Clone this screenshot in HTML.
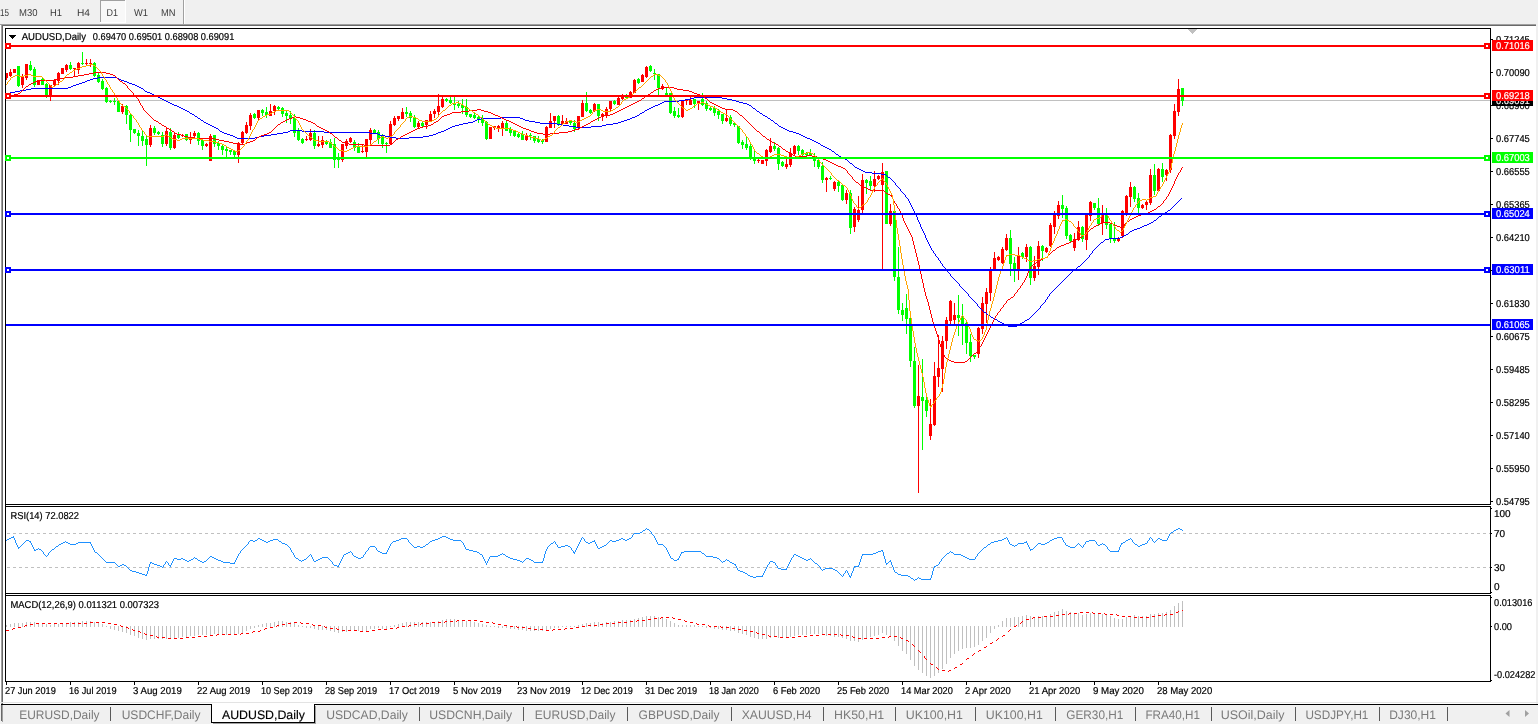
<!DOCTYPE html>
<html><head><meta charset="utf-8"><title>AUDUSD,Daily</title>
<style>html,body{margin:0;padding:0;background:#fff;overflow:hidden}svg{display:block}</style></head>
<body>
<svg width="1538" height="724" viewBox="0 0 1538 724" font-family="'Liberation Sans', sans-serif" shape-rendering="crispEdges" text-rendering="geometricPrecision">
<rect x="0" y="0" width="1538" height="724" fill="#fff"/>
<rect x="0" y="0" width="1538" height="24" fill="#f0f0f0"/>
<rect x="100" y="0" width="26" height="23" fill="#f8f8f8"/>
<rect x="100" y="0" width="26" height="1" fill="#a0a0a0"/>
<rect x="100" y="0" width="1" height="23" fill="#a0a0a0"/>
<rect x="100" y="22" width="26" height="1" fill="#fff"/>
<rect x="125" y="0" width="1" height="23" fill="#fff"/>
<rect x="183" y="0" width="1" height="24" fill="#a0a0a0"/>
<rect x="184" y="0" width="1" height="24" fill="#fff"/>
<text x="0" y="16" font-size="10" fill="#3a3a3a" textLength="9" lengthAdjust="spacingAndGlyphs" xml:space="preserve">15</text>
<text x="19" y="16" font-size="10" fill="#3a3a3a" textLength="18.5" lengthAdjust="spacingAndGlyphs" xml:space="preserve">M30</text>
<text x="50" y="16" font-size="10" fill="#3a3a3a" textLength="12" lengthAdjust="spacingAndGlyphs" xml:space="preserve">H1</text>
<text x="77" y="16" font-size="10" fill="#3a3a3a" textLength="13" lengthAdjust="spacingAndGlyphs" xml:space="preserve">H4</text>
<text x="106.5" y="16" font-size="10" fill="#3a3a3a" textLength="11.5" lengthAdjust="spacingAndGlyphs" xml:space="preserve">D1</text>
<text x="134" y="16" font-size="10" fill="#3a3a3a" textLength="14" lengthAdjust="spacingAndGlyphs" xml:space="preserve">W1</text>
<text x="161" y="16" font-size="10" fill="#3a3a3a" textLength="14.5" lengthAdjust="spacingAndGlyphs" xml:space="preserve">MN</text>
<rect x="0" y="24" width="1538" height="1" fill="#a0a0a0"/>
<rect x="1" y="25" width="1536" height="1" fill="#696969"/>
<rect x="0" y="26" width="1" height="676" fill="#fff"/>
<rect x="1" y="24" width="1" height="680" fill="#a0a0a0"/>
<rect x="2" y="25" width="1" height="679" fill="#696969"/>
<rect x="1536" y="24" width="2" height="680" fill="#f0f0f0"/>
<rect x="5" y="28" width="1" height="654" fill="#000"/>
<rect x="1490" y="28" width="1" height="654" fill="#000"/>
<rect x="5" y="28" width="1486" height="1" fill="#000"/>
<rect x="5" y="504" width="1486" height="1" fill="#000"/>
<rect x="5" y="506" width="1486" height="1" fill="#000"/>
<rect x="5" y="593" width="1486" height="1" fill="#000"/>
<rect x="5" y="595" width="1486" height="1" fill="#000"/>
<rect x="5" y="681" width="1486" height="1" fill="#000"/>
<rect x="5" y="505" width="1486" height="1" fill="#fff"/>
<rect x="5" y="594" width="1486" height="1" fill="#fff"/>
<clipPath id="cm"><rect x="6" y="29" width="1484" height="475"/></clipPath>
<g clip-path="url(#cm)">
<path d="M1187 29h10l-5 5z" fill="#c0c0c0"/>
<rect x="6" y="100" width="1484" height="1" fill="#c0c0c0"/>
<rect x="6" y="73" width="1" height="7" fill="#ff0000"/>
<rect x="5" y="73" width="3" height="5" fill="#ff0000"/>
<rect x="10" y="69" width="1" height="8" fill="#ff0000"/>
<rect x="9" y="72" width="3" height="4" fill="#ff0000"/>
<rect x="14" y="69" width="1" height="4" fill="#ff0000"/>
<rect x="13" y="69" width="3" height="4" fill="#ff0000"/>
<rect x="18" y="66" width="1" height="21" fill="#00ff00"/>
<rect x="17" y="66" width="3" height="20" fill="#00ff00"/>
<rect x="22" y="74" width="1" height="14" fill="#ff0000"/>
<rect x="21" y="77" width="3" height="8" fill="#ff0000"/>
<rect x="26" y="64" width="1" height="16" fill="#ff0000"/>
<rect x="25" y="64" width="3" height="14" fill="#ff0000"/>
<rect x="30" y="61" width="1" height="10" fill="#00ff00"/>
<rect x="29" y="65" width="3" height="5" fill="#00ff00"/>
<rect x="34" y="67" width="1" height="20" fill="#00ff00"/>
<rect x="33" y="69" width="3" height="16" fill="#00ff00"/>
<rect x="38" y="80" width="1" height="5" fill="#ff0000"/>
<rect x="37" y="80" width="3" height="5" fill="#ff0000"/>
<rect x="42" y="77" width="1" height="8" fill="#00ff00"/>
<rect x="41" y="79" width="3" height="6" fill="#00ff00"/>
<rect x="46" y="83" width="1" height="15" fill="#00ff00"/>
<rect x="45" y="84" width="3" height="11" fill="#00ff00"/>
<rect x="50" y="85" width="1" height="16" fill="#ff0000"/>
<rect x="49" y="85" width="3" height="10" fill="#ff0000"/>
<rect x="54" y="79" width="1" height="7" fill="#ff0000"/>
<rect x="53" y="80" width="3" height="5" fill="#ff0000"/>
<rect x="58" y="72" width="1" height="13" fill="#ff0000"/>
<rect x="57" y="73" width="3" height="8" fill="#ff0000"/>
<rect x="62" y="68" width="1" height="6" fill="#ff0000"/>
<rect x="61" y="68" width="3" height="6" fill="#ff0000"/>
<rect x="66" y="64" width="1" height="8" fill="#ff0000"/>
<rect x="65" y="65" width="3" height="5" fill="#ff0000"/>
<rect x="70" y="62" width="1" height="8" fill="#00ff00"/>
<rect x="69" y="65" width="3" height="4" fill="#00ff00"/>
<rect x="74" y="68" width="1" height="8" fill="#ff0000"/>
<rect x="73" y="68" width="3" height="1" fill="#ff0000"/>
<rect x="78" y="62" width="1" height="12" fill="#ff0000"/>
<rect x="77" y="63" width="3" height="7" fill="#ff0000"/>
<rect x="82" y="52" width="1" height="13" fill="#00ff00"/>
<rect x="81" y="63" width="3" height="1" fill="#00ff00"/>
<rect x="86" y="59" width="1" height="6" fill="#ff0000"/>
<rect x="85" y="63" width="3" height="1" fill="#ff0000"/>
<rect x="90" y="59" width="1" height="8" fill="#ff0000"/>
<rect x="89" y="63" width="3" height="1" fill="#ff0000"/>
<rect x="94" y="62" width="1" height="15" fill="#00ff00"/>
<rect x="93" y="63" width="3" height="13" fill="#00ff00"/>
<rect x="98" y="73" width="1" height="10" fill="#00ff00"/>
<rect x="97" y="75" width="3" height="7" fill="#00ff00"/>
<rect x="102" y="79" width="1" height="11" fill="#00ff00"/>
<rect x="101" y="81" width="3" height="8" fill="#00ff00"/>
<rect x="106" y="87" width="1" height="16" fill="#00ff00"/>
<rect x="105" y="88" width="3" height="14" fill="#00ff00"/>
<rect x="110" y="100" width="1" height="3" fill="#00ff00"/>
<rect x="109" y="101" width="3" height="1" fill="#00ff00"/>
<rect x="114" y="98" width="1" height="7" fill="#00ff00"/>
<rect x="113" y="101" width="3" height="1" fill="#00ff00"/>
<rect x="118" y="101" width="1" height="11" fill="#00ff00"/>
<rect x="117" y="101" width="3" height="11" fill="#00ff00"/>
<rect x="122" y="104" width="1" height="10" fill="#ff0000"/>
<rect x="121" y="106" width="3" height="6" fill="#ff0000"/>
<rect x="126" y="105" width="1" height="19" fill="#00ff00"/>
<rect x="125" y="106" width="3" height="9" fill="#00ff00"/>
<rect x="130" y="113" width="1" height="29" fill="#00ff00"/>
<rect x="129" y="115" width="3" height="15" fill="#00ff00"/>
<rect x="134" y="129" width="1" height="5" fill="#00ff00"/>
<rect x="133" y="129" width="3" height="4" fill="#00ff00"/>
<rect x="138" y="130" width="1" height="16" fill="#00ff00"/>
<rect x="137" y="133" width="3" height="3" fill="#00ff00"/>
<rect x="142" y="130" width="1" height="16" fill="#00ff00"/>
<rect x="141" y="136" width="3" height="5" fill="#00ff00"/>
<rect x="146" y="136" width="1" height="30" fill="#00ff00"/>
<rect x="145" y="139" width="3" height="6" fill="#00ff00"/>
<rect x="150" y="125" width="1" height="22" fill="#ff0000"/>
<rect x="149" y="128" width="3" height="17" fill="#ff0000"/>
<rect x="154" y="126" width="1" height="9" fill="#00ff00"/>
<rect x="153" y="128" width="3" height="5" fill="#00ff00"/>
<rect x="158" y="131" width="1" height="4" fill="#00ff00"/>
<rect x="157" y="132" width="3" height="2" fill="#00ff00"/>
<rect x="162" y="132" width="1" height="15" fill="#00ff00"/>
<rect x="161" y="135" width="3" height="9" fill="#00ff00"/>
<rect x="166" y="127" width="1" height="19" fill="#ff0000"/>
<rect x="165" y="131" width="3" height="13" fill="#ff0000"/>
<rect x="170" y="128" width="1" height="22" fill="#00ff00"/>
<rect x="169" y="132" width="3" height="16" fill="#00ff00"/>
<rect x="174" y="133" width="1" height="16" fill="#ff0000"/>
<rect x="173" y="135" width="3" height="13" fill="#ff0000"/>
<rect x="178" y="132" width="1" height="7" fill="#00ff00"/>
<rect x="177" y="135" width="3" height="3" fill="#00ff00"/>
<rect x="182" y="134" width="1" height="3" fill="#ff0000"/>
<rect x="181" y="135" width="3" height="1" fill="#ff0000"/>
<rect x="186" y="134" width="1" height="7" fill="#00ff00"/>
<rect x="185" y="134" width="3" height="6" fill="#00ff00"/>
<rect x="190" y="132" width="1" height="12" fill="#ff0000"/>
<rect x="189" y="137" width="3" height="3" fill="#ff0000"/>
<rect x="194" y="131" width="1" height="8" fill="#ff0000"/>
<rect x="193" y="133" width="3" height="3" fill="#ff0000"/>
<rect x="198" y="132" width="1" height="13" fill="#00ff00"/>
<rect x="197" y="133" width="3" height="8" fill="#00ff00"/>
<rect x="202" y="138" width="1" height="12" fill="#00ff00"/>
<rect x="201" y="140" width="3" height="6" fill="#00ff00"/>
<rect x="206" y="143" width="1" height="4" fill="#ff0000"/>
<rect x="205" y="144" width="3" height="2" fill="#ff0000"/>
<rect x="210" y="134" width="1" height="27" fill="#ff0000"/>
<rect x="209" y="136" width="3" height="25" fill="#ff0000"/>
<rect x="214" y="135" width="1" height="12" fill="#00ff00"/>
<rect x="213" y="135" width="3" height="9" fill="#00ff00"/>
<rect x="218" y="141" width="1" height="9" fill="#00ff00"/>
<rect x="217" y="143" width="3" height="3" fill="#00ff00"/>
<rect x="222" y="145" width="1" height="10" fill="#00ff00"/>
<rect x="221" y="146" width="3" height="4" fill="#00ff00"/>
<rect x="226" y="147" width="1" height="10" fill="#00ff00"/>
<rect x="225" y="149" width="3" height="2" fill="#00ff00"/>
<rect x="230" y="150" width="1" height="5" fill="#00ff00"/>
<rect x="229" y="150" width="3" height="2" fill="#00ff00"/>
<rect x="234" y="150" width="1" height="7" fill="#00ff00"/>
<rect x="233" y="151" width="3" height="4" fill="#00ff00"/>
<rect x="238" y="142" width="1" height="21" fill="#ff0000"/>
<rect x="237" y="143" width="3" height="12" fill="#ff0000"/>
<rect x="242" y="131" width="1" height="13" fill="#ff0000"/>
<rect x="241" y="132" width="3" height="11" fill="#ff0000"/>
<rect x="246" y="122" width="1" height="12" fill="#ff0000"/>
<rect x="245" y="125" width="3" height="8" fill="#ff0000"/>
<rect x="250" y="113" width="1" height="17" fill="#ff0000"/>
<rect x="249" y="115" width="3" height="11" fill="#ff0000"/>
<rect x="254" y="113" width="1" height="6" fill="#00ff00"/>
<rect x="253" y="114" width="3" height="4" fill="#00ff00"/>
<rect x="258" y="110" width="1" height="10" fill="#ff0000"/>
<rect x="257" y="110" width="3" height="8" fill="#ff0000"/>
<rect x="262" y="109" width="1" height="7" fill="#00ff00"/>
<rect x="261" y="110" width="3" height="3" fill="#00ff00"/>
<rect x="266" y="107" width="1" height="11" fill="#00ff00"/>
<rect x="265" y="112" width="3" height="3" fill="#00ff00"/>
<rect x="270" y="104" width="1" height="12" fill="#ff0000"/>
<rect x="269" y="111" width="3" height="5" fill="#ff0000"/>
<rect x="274" y="105" width="1" height="10" fill="#ff0000"/>
<rect x="273" y="106" width="3" height="5" fill="#ff0000"/>
<rect x="278" y="106" width="1" height="4" fill="#00ff00"/>
<rect x="277" y="107" width="3" height="2" fill="#00ff00"/>
<rect x="282" y="107" width="1" height="10" fill="#00ff00"/>
<rect x="281" y="108" width="3" height="6" fill="#00ff00"/>
<rect x="286" y="111" width="1" height="12" fill="#00ff00"/>
<rect x="285" y="113" width="3" height="3" fill="#00ff00"/>
<rect x="290" y="111" width="1" height="13" fill="#00ff00"/>
<rect x="289" y="115" width="3" height="4" fill="#00ff00"/>
<rect x="294" y="114" width="1" height="23" fill="#00ff00"/>
<rect x="293" y="118" width="3" height="15" fill="#00ff00"/>
<rect x="298" y="128" width="1" height="13" fill="#00ff00"/>
<rect x="297" y="130" width="3" height="10" fill="#00ff00"/>
<rect x="302" y="138" width="1" height="6" fill="#00ff00"/>
<rect x="301" y="139" width="3" height="4" fill="#00ff00"/>
<rect x="306" y="136" width="1" height="5" fill="#ff0000"/>
<rect x="305" y="139" width="3" height="1" fill="#ff0000"/>
<rect x="310" y="129" width="1" height="12" fill="#ff0000"/>
<rect x="309" y="133" width="3" height="7" fill="#ff0000"/>
<rect x="314" y="130" width="1" height="19" fill="#00ff00"/>
<rect x="313" y="133" width="3" height="13" fill="#00ff00"/>
<rect x="318" y="136" width="1" height="11" fill="#ff0000"/>
<rect x="317" y="144" width="3" height="2" fill="#ff0000"/>
<rect x="322" y="136" width="1" height="12" fill="#ff0000"/>
<rect x="321" y="140" width="3" height="5" fill="#ff0000"/>
<rect x="326" y="140" width="1" height="5" fill="#00ff00"/>
<rect x="325" y="141" width="3" height="3" fill="#00ff00"/>
<rect x="330" y="139" width="1" height="9" fill="#00ff00"/>
<rect x="329" y="142" width="3" height="6" fill="#00ff00"/>
<rect x="334" y="138" width="1" height="30" fill="#00ff00"/>
<rect x="333" y="144" width="3" height="16" fill="#00ff00"/>
<rect x="338" y="153" width="1" height="15" fill="#00ff00"/>
<rect x="337" y="158" width="3" height="2" fill="#00ff00"/>
<rect x="342" y="144" width="1" height="18" fill="#ff0000"/>
<rect x="341" y="144" width="3" height="16" fill="#ff0000"/>
<rect x="346" y="139" width="1" height="10" fill="#ff0000"/>
<rect x="345" y="141" width="3" height="5" fill="#ff0000"/>
<rect x="350" y="137" width="1" height="6" fill="#ff0000"/>
<rect x="349" y="138" width="3" height="4" fill="#ff0000"/>
<rect x="354" y="140" width="1" height="11" fill="#00ff00"/>
<rect x="353" y="142" width="3" height="6" fill="#00ff00"/>
<rect x="358" y="143" width="1" height="10" fill="#00ff00"/>
<rect x="357" y="146" width="3" height="7" fill="#00ff00"/>
<rect x="362" y="145" width="1" height="8" fill="#ff0000"/>
<rect x="361" y="151" width="3" height="1" fill="#ff0000"/>
<rect x="366" y="139" width="1" height="18" fill="#ff0000"/>
<rect x="365" y="139" width="3" height="13" fill="#ff0000"/>
<rect x="370" y="128" width="1" height="16" fill="#ff0000"/>
<rect x="369" y="130" width="3" height="10" fill="#ff0000"/>
<rect x="374" y="129" width="1" height="5" fill="#00ff00"/>
<rect x="373" y="130" width="3" height="3" fill="#00ff00"/>
<rect x="378" y="130" width="1" height="14" fill="#00ff00"/>
<rect x="377" y="132" width="3" height="7" fill="#00ff00"/>
<rect x="382" y="134" width="1" height="14" fill="#00ff00"/>
<rect x="381" y="135" width="3" height="9" fill="#00ff00"/>
<rect x="386" y="142" width="1" height="11" fill="#00ff00"/>
<rect x="385" y="143" width="3" height="1" fill="#00ff00"/>
<rect x="390" y="121" width="1" height="24" fill="#ff0000"/>
<rect x="389" y="124" width="3" height="20" fill="#ff0000"/>
<rect x="394" y="116" width="1" height="10" fill="#ff0000"/>
<rect x="393" y="118" width="3" height="7" fill="#ff0000"/>
<rect x="398" y="116" width="1" height="5" fill="#ff0000"/>
<rect x="397" y="116" width="3" height="3" fill="#ff0000"/>
<rect x="402" y="108" width="1" height="11" fill="#ff0000"/>
<rect x="401" y="112" width="3" height="7" fill="#ff0000"/>
<rect x="406" y="107" width="1" height="10" fill="#00ff00"/>
<rect x="405" y="112" width="3" height="2" fill="#00ff00"/>
<rect x="410" y="111" width="1" height="11" fill="#00ff00"/>
<rect x="409" y="113" width="3" height="5" fill="#00ff00"/>
<rect x="414" y="115" width="1" height="13" fill="#00ff00"/>
<rect x="413" y="117" width="3" height="10" fill="#00ff00"/>
<rect x="418" y="121" width="1" height="8" fill="#ff0000"/>
<rect x="417" y="123" width="3" height="4" fill="#ff0000"/>
<rect x="422" y="122" width="1" height="5" fill="#00ff00"/>
<rect x="421" y="123" width="3" height="3" fill="#00ff00"/>
<rect x="426" y="120" width="1" height="9" fill="#ff0000"/>
<rect x="425" y="120" width="3" height="5" fill="#ff0000"/>
<rect x="430" y="111" width="1" height="11" fill="#ff0000"/>
<rect x="429" y="114" width="3" height="7" fill="#ff0000"/>
<rect x="434" y="109" width="1" height="9" fill="#ff0000"/>
<rect x="433" y="111" width="3" height="3" fill="#ff0000"/>
<rect x="438" y="94" width="1" height="23" fill="#ff0000"/>
<rect x="437" y="106" width="3" height="6" fill="#ff0000"/>
<rect x="442" y="97" width="1" height="11" fill="#ff0000"/>
<rect x="441" y="99" width="3" height="8" fill="#ff0000"/>
<rect x="446" y="98" width="1" height="4" fill="#00ff00"/>
<rect x="445" y="99" width="3" height="2" fill="#00ff00"/>
<rect x="450" y="97" width="1" height="7" fill="#00ff00"/>
<rect x="449" y="100" width="3" height="3" fill="#00ff00"/>
<rect x="454" y="97" width="1" height="13" fill="#00ff00"/>
<rect x="453" y="103" width="3" height="2" fill="#00ff00"/>
<rect x="458" y="101" width="1" height="7" fill="#00ff00"/>
<rect x="457" y="104" width="3" height="2" fill="#00ff00"/>
<rect x="462" y="99" width="1" height="15" fill="#00ff00"/>
<rect x="461" y="105" width="3" height="3" fill="#00ff00"/>
<rect x="466" y="99" width="1" height="18" fill="#00ff00"/>
<rect x="465" y="107" width="3" height="8" fill="#00ff00"/>
<rect x="470" y="114" width="1" height="4" fill="#00ff00"/>
<rect x="469" y="114" width="3" height="3" fill="#00ff00"/>
<rect x="474" y="113" width="1" height="6" fill="#00ff00"/>
<rect x="473" y="115" width="3" height="3" fill="#00ff00"/>
<rect x="478" y="115" width="1" height="8" fill="#00ff00"/>
<rect x="477" y="117" width="3" height="2" fill="#00ff00"/>
<rect x="482" y="115" width="1" height="11" fill="#00ff00"/>
<rect x="481" y="119" width="3" height="4" fill="#00ff00"/>
<rect x="486" y="121" width="1" height="19" fill="#00ff00"/>
<rect x="485" y="122" width="3" height="17" fill="#00ff00"/>
<rect x="490" y="127" width="1" height="12" fill="#ff0000"/>
<rect x="489" y="127" width="3" height="12" fill="#ff0000"/>
<rect x="494" y="126" width="1" height="4" fill="#ff0000"/>
<rect x="493" y="126" width="3" height="2" fill="#ff0000"/>
<rect x="498" y="125" width="1" height="7" fill="#ff0000"/>
<rect x="497" y="126" width="3" height="3" fill="#ff0000"/>
<rect x="502" y="121" width="1" height="15" fill="#ff0000"/>
<rect x="501" y="123" width="3" height="6" fill="#ff0000"/>
<rect x="506" y="121" width="1" height="10" fill="#00ff00"/>
<rect x="505" y="123" width="3" height="8" fill="#00ff00"/>
<rect x="510" y="127" width="1" height="9" fill="#00ff00"/>
<rect x="509" y="129" width="3" height="4" fill="#00ff00"/>
<rect x="514" y="130" width="1" height="7" fill="#00ff00"/>
<rect x="513" y="131" width="3" height="5" fill="#00ff00"/>
<rect x="518" y="133" width="1" height="5" fill="#00ff00"/>
<rect x="517" y="134" width="3" height="3" fill="#00ff00"/>
<rect x="522" y="131" width="1" height="9" fill="#00ff00"/>
<rect x="521" y="134" width="3" height="6" fill="#00ff00"/>
<rect x="526" y="133" width="1" height="8" fill="#ff0000"/>
<rect x="525" y="136" width="3" height="4" fill="#ff0000"/>
<rect x="530" y="133" width="1" height="7" fill="#00ff00"/>
<rect x="529" y="135" width="3" height="1" fill="#00ff00"/>
<rect x="534" y="136" width="1" height="7" fill="#00ff00"/>
<rect x="533" y="136" width="3" height="5" fill="#00ff00"/>
<rect x="538" y="136" width="1" height="7" fill="#00ff00"/>
<rect x="537" y="139" width="3" height="3" fill="#00ff00"/>
<rect x="542" y="139" width="1" height="5" fill="#00ff00"/>
<rect x="541" y="140" width="3" height="2" fill="#00ff00"/>
<rect x="546" y="126" width="1" height="16" fill="#ff0000"/>
<rect x="545" y="127" width="3" height="15" fill="#ff0000"/>
<rect x="550" y="113" width="1" height="15" fill="#ff0000"/>
<rect x="549" y="121" width="3" height="7" fill="#ff0000"/>
<rect x="554" y="116" width="1" height="12" fill="#ff0000"/>
<rect x="553" y="116" width="3" height="5" fill="#ff0000"/>
<rect x="558" y="115" width="1" height="11" fill="#00ff00"/>
<rect x="557" y="116" width="3" height="8" fill="#00ff00"/>
<rect x="562" y="115" width="1" height="9" fill="#ff0000"/>
<rect x="561" y="121" width="3" height="3" fill="#ff0000"/>
<rect x="566" y="118" width="1" height="6" fill="#ff0000"/>
<rect x="565" y="121" width="3" height="3" fill="#ff0000"/>
<rect x="570" y="121" width="1" height="4" fill="#00ff00"/>
<rect x="569" y="121" width="3" height="2" fill="#00ff00"/>
<rect x="574" y="120" width="1" height="12" fill="#00ff00"/>
<rect x="573" y="123" width="3" height="6" fill="#00ff00"/>
<rect x="578" y="116" width="1" height="14" fill="#ff0000"/>
<rect x="577" y="116" width="3" height="12" fill="#ff0000"/>
<rect x="582" y="100" width="1" height="17" fill="#ff0000"/>
<rect x="581" y="103" width="3" height="14" fill="#ff0000"/>
<rect x="586" y="92" width="1" height="20" fill="#00ff00"/>
<rect x="585" y="103" width="3" height="8" fill="#00ff00"/>
<rect x="590" y="109" width="1" height="5" fill="#00ff00"/>
<rect x="589" y="110" width="3" height="3" fill="#00ff00"/>
<rect x="594" y="103" width="1" height="9" fill="#ff0000"/>
<rect x="593" y="104" width="3" height="7" fill="#ff0000"/>
<rect x="598" y="104" width="1" height="17" fill="#00ff00"/>
<rect x="597" y="104" width="3" height="12" fill="#00ff00"/>
<rect x="602" y="113" width="1" height="8" fill="#ff0000"/>
<rect x="601" y="114" width="3" height="3" fill="#ff0000"/>
<rect x="606" y="107" width="1" height="11" fill="#ff0000"/>
<rect x="605" y="109" width="3" height="7" fill="#ff0000"/>
<rect x="610" y="101" width="1" height="10" fill="#ff0000"/>
<rect x="609" y="101" width="3" height="8" fill="#ff0000"/>
<rect x="614" y="100" width="1" height="5" fill="#00ff00"/>
<rect x="613" y="101" width="3" height="3" fill="#00ff00"/>
<rect x="618" y="96" width="1" height="9" fill="#ff0000"/>
<rect x="617" y="98" width="3" height="7" fill="#ff0000"/>
<rect x="622" y="94" width="1" height="6" fill="#ff0000"/>
<rect x="621" y="95" width="3" height="4" fill="#ff0000"/>
<rect x="626" y="94" width="1" height="4" fill="#00ff00"/>
<rect x="625" y="96" width="3" height="2" fill="#00ff00"/>
<rect x="630" y="91" width="1" height="7" fill="#ff0000"/>
<rect x="629" y="92" width="3" height="6" fill="#ff0000"/>
<rect x="634" y="79" width="1" height="14" fill="#ff0000"/>
<rect x="633" y="80" width="3" height="13" fill="#ff0000"/>
<rect x="638" y="78" width="1" height="6" fill="#00ff00"/>
<rect x="637" y="79" width="3" height="4" fill="#00ff00"/>
<rect x="642" y="74" width="1" height="8" fill="#ff0000"/>
<rect x="641" y="75" width="3" height="7" fill="#ff0000"/>
<rect x="646" y="66" width="1" height="12" fill="#ff0000"/>
<rect x="645" y="67" width="3" height="10" fill="#ff0000"/>
<rect x="650" y="65" width="1" height="7" fill="#00ff00"/>
<rect x="649" y="66" width="3" height="5" fill="#00ff00"/>
<rect x="654" y="69" width="1" height="11" fill="#00ff00"/>
<rect x="653" y="73" width="3" height="1" fill="#00ff00"/>
<rect x="658" y="74" width="1" height="21" fill="#00ff00"/>
<rect x="657" y="74" width="3" height="14" fill="#00ff00"/>
<rect x="662" y="84" width="1" height="6" fill="#ff0000"/>
<rect x="661" y="86" width="3" height="3" fill="#ff0000"/>
<rect x="666" y="87" width="1" height="9" fill="#00ff00"/>
<rect x="665" y="93" width="3" height="2" fill="#00ff00"/>
<rect x="670" y="93" width="1" height="21" fill="#00ff00"/>
<rect x="669" y="93" width="3" height="20" fill="#00ff00"/>
<rect x="674" y="107" width="1" height="11" fill="#00ff00"/>
<rect x="673" y="111" width="3" height="5" fill="#00ff00"/>
<rect x="678" y="108" width="1" height="10" fill="#00ff00"/>
<rect x="677" y="115" width="3" height="2" fill="#00ff00"/>
<rect x="682" y="100" width="1" height="18" fill="#ff0000"/>
<rect x="681" y="101" width="3" height="16" fill="#ff0000"/>
<rect x="686" y="100" width="1" height="5" fill="#ff0000"/>
<rect x="685" y="100" width="3" height="1" fill="#ff0000"/>
<rect x="690" y="96" width="1" height="9" fill="#ff0000"/>
<rect x="689" y="100" width="3" height="5" fill="#ff0000"/>
<rect x="694" y="99" width="1" height="9" fill="#00ff00"/>
<rect x="693" y="99" width="3" height="5" fill="#00ff00"/>
<rect x="698" y="101" width="1" height="9" fill="#ff0000"/>
<rect x="697" y="101" width="3" height="2" fill="#ff0000"/>
<rect x="702" y="93" width="1" height="13" fill="#00ff00"/>
<rect x="701" y="99" width="3" height="6" fill="#00ff00"/>
<rect x="706" y="101" width="1" height="10" fill="#00ff00"/>
<rect x="705" y="103" width="3" height="6" fill="#00ff00"/>
<rect x="710" y="107" width="1" height="4" fill="#00ff00"/>
<rect x="709" y="108" width="3" height="2" fill="#00ff00"/>
<rect x="714" y="106" width="1" height="10" fill="#00ff00"/>
<rect x="713" y="108" width="3" height="5" fill="#00ff00"/>
<rect x="718" y="109" width="1" height="10" fill="#00ff00"/>
<rect x="717" y="111" width="3" height="4" fill="#00ff00"/>
<rect x="722" y="114" width="1" height="10" fill="#00ff00"/>
<rect x="721" y="114" width="3" height="7" fill="#00ff00"/>
<rect x="726" y="110" width="1" height="12" fill="#ff0000"/>
<rect x="725" y="118" width="3" height="3" fill="#ff0000"/>
<rect x="730" y="115" width="1" height="11" fill="#00ff00"/>
<rect x="729" y="117" width="3" height="7" fill="#00ff00"/>
<rect x="734" y="122" width="1" height="5" fill="#00ff00"/>
<rect x="733" y="123" width="3" height="2" fill="#00ff00"/>
<rect x="738" y="126" width="1" height="18" fill="#00ff00"/>
<rect x="737" y="126" width="3" height="17" fill="#00ff00"/>
<rect x="742" y="140" width="1" height="9" fill="#00ff00"/>
<rect x="741" y="142" width="3" height="3" fill="#00ff00"/>
<rect x="746" y="137" width="1" height="13" fill="#00ff00"/>
<rect x="745" y="144" width="3" height="4" fill="#00ff00"/>
<rect x="750" y="142" width="1" height="18" fill="#00ff00"/>
<rect x="749" y="146" width="3" height="13" fill="#00ff00"/>
<rect x="754" y="151" width="1" height="13" fill="#00ff00"/>
<rect x="753" y="159" width="3" height="2" fill="#00ff00"/>
<rect x="758" y="159" width="1" height="4" fill="#ff0000"/>
<rect x="757" y="160" width="3" height="1" fill="#ff0000"/>
<rect x="762" y="160" width="1" height="4" fill="#ff0000"/>
<rect x="761" y="160" width="3" height="4" fill="#ff0000"/>
<rect x="766" y="149" width="1" height="17" fill="#ff0000"/>
<rect x="765" y="150" width="3" height="11" fill="#ff0000"/>
<rect x="770" y="138" width="1" height="15" fill="#ff0000"/>
<rect x="769" y="146" width="3" height="6" fill="#ff0000"/>
<rect x="774" y="142" width="1" height="9" fill="#00ff00"/>
<rect x="773" y="146" width="3" height="3" fill="#00ff00"/>
<rect x="778" y="147" width="1" height="23" fill="#00ff00"/>
<rect x="777" y="148" width="3" height="16" fill="#00ff00"/>
<rect x="782" y="161" width="1" height="6" fill="#00ff00"/>
<rect x="781" y="162" width="3" height="4" fill="#00ff00"/>
<rect x="786" y="159" width="1" height="10" fill="#ff0000"/>
<rect x="785" y="164" width="3" height="3" fill="#ff0000"/>
<rect x="790" y="148" width="1" height="19" fill="#ff0000"/>
<rect x="789" y="153" width="3" height="12" fill="#ff0000"/>
<rect x="794" y="145" width="1" height="11" fill="#ff0000"/>
<rect x="793" y="146" width="3" height="8" fill="#ff0000"/>
<rect x="798" y="145" width="1" height="10" fill="#00ff00"/>
<rect x="797" y="146" width="3" height="5" fill="#00ff00"/>
<rect x="802" y="149" width="1" height="7" fill="#00ff00"/>
<rect x="801" y="150" width="3" height="5" fill="#00ff00"/>
<rect x="806" y="152" width="1" height="4" fill="#00ff00"/>
<rect x="805" y="153" width="3" height="2" fill="#00ff00"/>
<rect x="810" y="149" width="1" height="7" fill="#00ff00"/>
<rect x="809" y="153" width="3" height="2" fill="#00ff00"/>
<rect x="814" y="153" width="1" height="14" fill="#00ff00"/>
<rect x="813" y="156" width="3" height="5" fill="#00ff00"/>
<rect x="818" y="157" width="1" height="12" fill="#00ff00"/>
<rect x="817" y="160" width="3" height="7" fill="#00ff00"/>
<rect x="822" y="162" width="1" height="21" fill="#00ff00"/>
<rect x="821" y="166" width="3" height="14" fill="#00ff00"/>
<rect x="826" y="177" width="1" height="15" fill="#ff0000"/>
<rect x="825" y="178" width="3" height="2" fill="#ff0000"/>
<rect x="830" y="176" width="1" height="4" fill="#00ff00"/>
<rect x="829" y="178" width="3" height="1" fill="#00ff00"/>
<rect x="834" y="181" width="1" height="10" fill="#ff0000"/>
<rect x="833" y="182" width="3" height="7" fill="#ff0000"/>
<rect x="838" y="180" width="1" height="12" fill="#00ff00"/>
<rect x="837" y="182" width="3" height="4" fill="#00ff00"/>
<rect x="842" y="184" width="1" height="17" fill="#00ff00"/>
<rect x="841" y="185" width="3" height="15" fill="#00ff00"/>
<rect x="846" y="190" width="1" height="14" fill="#ff0000"/>
<rect x="845" y="193" width="3" height="7" fill="#ff0000"/>
<rect x="850" y="190" width="1" height="44" fill="#00ff00"/>
<rect x="849" y="193" width="3" height="35" fill="#00ff00"/>
<rect x="854" y="207" width="1" height="25" fill="#ff0000"/>
<rect x="853" y="209" width="3" height="18" fill="#ff0000"/>
<rect x="858" y="196" width="1" height="26" fill="#ff0000"/>
<rect x="857" y="210" width="3" height="10" fill="#ff0000"/>
<rect x="862" y="174" width="1" height="39" fill="#ff0000"/>
<rect x="861" y="180" width="3" height="30" fill="#ff0000"/>
<rect x="866" y="179" width="1" height="15" fill="#00ff00"/>
<rect x="865" y="180" width="3" height="3" fill="#00ff00"/>
<rect x="870" y="176" width="1" height="14" fill="#00ff00"/>
<rect x="869" y="181" width="3" height="5" fill="#00ff00"/>
<rect x="874" y="171" width="1" height="21" fill="#ff0000"/>
<rect x="873" y="179" width="3" height="7" fill="#ff0000"/>
<rect x="878" y="175" width="1" height="5" fill="#ff0000"/>
<rect x="877" y="176" width="3" height="3" fill="#ff0000"/>
<rect x="882" y="163" width="1" height="106" fill="#ff0000"/>
<rect x="881" y="172" width="3" height="13" fill="#ff0000"/>
<rect x="886" y="171" width="1" height="53" fill="#00ff00"/>
<rect x="885" y="171" width="3" height="53" fill="#00ff00"/>
<rect x="890" y="204" width="1" height="22" fill="#ff0000"/>
<rect x="889" y="211" width="3" height="13" fill="#ff0000"/>
<rect x="894" y="209" width="1" height="72" fill="#00ff00"/>
<rect x="893" y="211" width="3" height="66" fill="#00ff00"/>
<rect x="898" y="247" width="1" height="67" fill="#00ff00"/>
<rect x="897" y="277" width="3" height="33" fill="#00ff00"/>
<rect x="902" y="303" width="1" height="18" fill="#00ff00"/>
<rect x="901" y="310" width="3" height="5" fill="#00ff00"/>
<rect x="906" y="294" width="1" height="40" fill="#00ff00"/>
<rect x="905" y="308" width="3" height="11" fill="#00ff00"/>
<rect x="910" y="318" width="1" height="49" fill="#00ff00"/>
<rect x="909" y="318" width="3" height="43" fill="#00ff00"/>
<rect x="914" y="347" width="1" height="61" fill="#00ff00"/>
<rect x="913" y="361" width="3" height="45" fill="#00ff00"/>
<rect x="918" y="365" width="1" height="128" fill="#ff0000"/>
<rect x="917" y="396" width="3" height="10" fill="#ff0000"/>
<rect x="922" y="359" width="1" height="91" fill="#00ff00"/>
<rect x="921" y="397" width="3" height="4" fill="#00ff00"/>
<rect x="926" y="396" width="1" height="21" fill="#00ff00"/>
<rect x="925" y="400" width="3" height="11" fill="#00ff00"/>
<rect x="930" y="399" width="1" height="41" fill="#ff0000"/>
<rect x="929" y="424" width="3" height="12" fill="#ff0000"/>
<rect x="934" y="362" width="1" height="64" fill="#ff0000"/>
<rect x="933" y="376" width="3" height="49" fill="#ff0000"/>
<rect x="938" y="335" width="1" height="52" fill="#ff0000"/>
<rect x="937" y="368" width="3" height="9" fill="#ff0000"/>
<rect x="942" y="336" width="1" height="56" fill="#ff0000"/>
<rect x="941" y="341" width="3" height="28" fill="#ff0000"/>
<rect x="946" y="317" width="1" height="32" fill="#ff0000"/>
<rect x="945" y="320" width="3" height="21" fill="#ff0000"/>
<rect x="950" y="300" width="1" height="24" fill="#ff0000"/>
<rect x="949" y="301" width="3" height="20" fill="#ff0000"/>
<rect x="954" y="303" width="1" height="21" fill="#ff0000"/>
<rect x="953" y="315" width="3" height="5" fill="#ff0000"/>
<rect x="958" y="295" width="1" height="41" fill="#00ff00"/>
<rect x="957" y="315" width="3" height="3" fill="#00ff00"/>
<rect x="962" y="304" width="1" height="41" fill="#00ff00"/>
<rect x="961" y="317" width="3" height="7" fill="#00ff00"/>
<rect x="966" y="322" width="1" height="32" fill="#00ff00"/>
<rect x="965" y="323" width="3" height="20" fill="#00ff00"/>
<rect x="970" y="334" width="1" height="28" fill="#00ff00"/>
<rect x="969" y="342" width="3" height="14" fill="#00ff00"/>
<rect x="974" y="355" width="1" height="4" fill="#00ff00"/>
<rect x="973" y="355" width="3" height="2" fill="#00ff00"/>
<rect x="978" y="327" width="1" height="31" fill="#ff0000"/>
<rect x="977" y="328" width="3" height="26" fill="#ff0000"/>
<rect x="982" y="297" width="1" height="37" fill="#ff0000"/>
<rect x="981" y="303" width="3" height="26" fill="#ff0000"/>
<rect x="986" y="288" width="1" height="35" fill="#ff0000"/>
<rect x="985" y="292" width="3" height="12" fill="#ff0000"/>
<rect x="990" y="267" width="1" height="34" fill="#ff0000"/>
<rect x="989" y="271" width="3" height="22" fill="#ff0000"/>
<rect x="994" y="252" width="1" height="18" fill="#ff0000"/>
<rect x="993" y="258" width="3" height="11" fill="#ff0000"/>
<rect x="998" y="256" width="1" height="5" fill="#ff0000"/>
<rect x="997" y="257" width="3" height="3" fill="#ff0000"/>
<rect x="1002" y="247" width="1" height="17" fill="#ff0000"/>
<rect x="1001" y="249" width="3" height="14" fill="#ff0000"/>
<rect x="1006" y="234" width="1" height="17" fill="#ff0000"/>
<rect x="1005" y="238" width="3" height="12" fill="#ff0000"/>
<rect x="1010" y="230" width="1" height="46" fill="#00ff00"/>
<rect x="1009" y="238" width="3" height="26" fill="#00ff00"/>
<rect x="1014" y="257" width="1" height="25" fill="#00ff00"/>
<rect x="1013" y="263" width="3" height="6" fill="#00ff00"/>
<rect x="1018" y="247" width="1" height="33" fill="#ff0000"/>
<rect x="1017" y="256" width="3" height="13" fill="#ff0000"/>
<rect x="1022" y="252" width="1" height="7" fill="#00ff00"/>
<rect x="1021" y="253" width="3" height="4" fill="#00ff00"/>
<rect x="1026" y="244" width="1" height="18" fill="#ff0000"/>
<rect x="1025" y="247" width="3" height="10" fill="#ff0000"/>
<rect x="1030" y="246" width="1" height="39" fill="#00ff00"/>
<rect x="1029" y="247" width="3" height="31" fill="#00ff00"/>
<rect x="1034" y="256" width="1" height="25" fill="#ff0000"/>
<rect x="1033" y="266" width="3" height="12" fill="#ff0000"/>
<rect x="1038" y="241" width="1" height="34" fill="#ff0000"/>
<rect x="1037" y="246" width="3" height="21" fill="#ff0000"/>
<rect x="1042" y="245" width="1" height="16" fill="#00ff00"/>
<rect x="1041" y="246" width="3" height="5" fill="#00ff00"/>
<rect x="1046" y="247" width="1" height="6" fill="#ff0000"/>
<rect x="1045" y="248" width="3" height="4" fill="#ff0000"/>
<rect x="1050" y="223" width="1" height="24" fill="#ff0000"/>
<rect x="1049" y="225" width="3" height="21" fill="#ff0000"/>
<rect x="1054" y="211" width="1" height="23" fill="#ff0000"/>
<rect x="1053" y="215" width="3" height="12" fill="#ff0000"/>
<rect x="1058" y="201" width="1" height="18" fill="#ff0000"/>
<rect x="1057" y="205" width="3" height="11" fill="#ff0000"/>
<rect x="1062" y="195" width="1" height="23" fill="#00ff00"/>
<rect x="1061" y="205" width="3" height="4" fill="#00ff00"/>
<rect x="1066" y="206" width="1" height="33" fill="#00ff00"/>
<rect x="1065" y="208" width="3" height="28" fill="#00ff00"/>
<rect x="1070" y="234" width="1" height="8" fill="#00ff00"/>
<rect x="1069" y="235" width="3" height="6" fill="#00ff00"/>
<rect x="1074" y="233" width="1" height="18" fill="#ff0000"/>
<rect x="1073" y="239" width="3" height="9" fill="#ff0000"/>
<rect x="1078" y="221" width="1" height="20" fill="#ff0000"/>
<rect x="1077" y="227" width="3" height="13" fill="#ff0000"/>
<rect x="1082" y="226" width="1" height="16" fill="#00ff00"/>
<rect x="1081" y="227" width="3" height="12" fill="#00ff00"/>
<rect x="1086" y="214" width="1" height="36" fill="#ff0000"/>
<rect x="1085" y="215" width="3" height="25" fill="#ff0000"/>
<rect x="1090" y="201" width="1" height="20" fill="#ff0000"/>
<rect x="1089" y="202" width="3" height="14" fill="#ff0000"/>
<rect x="1094" y="203" width="1" height="7" fill="#00ff00"/>
<rect x="1093" y="203" width="3" height="5" fill="#00ff00"/>
<rect x="1098" y="198" width="1" height="28" fill="#00ff00"/>
<rect x="1097" y="208" width="3" height="16" fill="#00ff00"/>
<rect x="1102" y="205" width="1" height="30" fill="#ff0000"/>
<rect x="1101" y="215" width="3" height="8" fill="#ff0000"/>
<rect x="1106" y="208" width="1" height="21" fill="#00ff00"/>
<rect x="1105" y="215" width="3" height="10" fill="#00ff00"/>
<rect x="1110" y="224" width="1" height="19" fill="#00ff00"/>
<rect x="1109" y="224" width="3" height="14" fill="#00ff00"/>
<rect x="1114" y="222" width="1" height="21" fill="#00ff00"/>
<rect x="1113" y="238" width="3" height="3" fill="#00ff00"/>
<rect x="1118" y="237" width="1" height="5" fill="#ff0000"/>
<rect x="1117" y="238" width="3" height="3" fill="#ff0000"/>
<rect x="1122" y="210" width="1" height="28" fill="#ff0000"/>
<rect x="1121" y="211" width="3" height="25" fill="#ff0000"/>
<rect x="1126" y="195" width="1" height="21" fill="#ff0000"/>
<rect x="1125" y="196" width="3" height="17" fill="#ff0000"/>
<rect x="1130" y="182" width="1" height="25" fill="#ff0000"/>
<rect x="1129" y="187" width="3" height="10" fill="#ff0000"/>
<rect x="1134" y="186" width="1" height="16" fill="#00ff00"/>
<rect x="1133" y="187" width="3" height="12" fill="#00ff00"/>
<rect x="1138" y="193" width="1" height="20" fill="#00ff00"/>
<rect x="1137" y="198" width="3" height="10" fill="#00ff00"/>
<rect x="1142" y="204" width="1" height="5" fill="#ff0000"/>
<rect x="1141" y="205" width="3" height="3" fill="#ff0000"/>
<rect x="1146" y="201" width="1" height="9" fill="#ff0000"/>
<rect x="1145" y="202" width="3" height="3" fill="#ff0000"/>
<rect x="1150" y="169" width="1" height="36" fill="#ff0000"/>
<rect x="1149" y="175" width="3" height="28" fill="#ff0000"/>
<rect x="1154" y="164" width="1" height="31" fill="#00ff00"/>
<rect x="1153" y="175" width="3" height="16" fill="#00ff00"/>
<rect x="1158" y="168" width="1" height="24" fill="#ff0000"/>
<rect x="1157" y="169" width="3" height="22" fill="#ff0000"/>
<rect x="1162" y="163" width="1" height="19" fill="#00ff00"/>
<rect x="1161" y="169" width="3" height="8" fill="#00ff00"/>
<rect x="1166" y="169" width="1" height="12" fill="#ff0000"/>
<rect x="1165" y="170" width="3" height="5" fill="#ff0000"/>
<rect x="1170" y="134" width="1" height="39" fill="#ff0000"/>
<rect x="1169" y="135" width="3" height="35" fill="#ff0000"/>
<rect x="1174" y="104" width="1" height="35" fill="#ff0000"/>
<rect x="1173" y="111" width="3" height="25" fill="#ff0000"/>
<rect x="1178" y="79" width="1" height="37" fill="#ff0000"/>
<rect x="1177" y="89" width="3" height="23" fill="#ff0000"/>
<rect x="1182" y="88" width="1" height="18" fill="#00ff00"/>
<rect x="1181" y="88" width="3" height="13" fill="#00ff00"/>
</g>
<path d="M98 77h19M93 78h5M117 78h2M90 79h3M119 79h2M87 80h3M121 80h3M85 81h2M124 81h3M82 82h3M127 82h2M79 83h3M129 83h3M76 84h3M132 84h3M73 85h3M135 85h2M71 86h2M137 86h2M68 87h3M139 87h2M31 88h37M141 88h2M26 89h5M143 89h1M20 90h6M144 90h1M15 91h5M145 91h2M10 92h5M147 92h3M7 93h3M150 93h2M152 94h2M154 95h2M156 96h2M158 97h2M694 97h28M160 98h2M690 98h4M722 98h5M162 99h2M685 99h5M727 99h5M164 100h2M679 100h6M732 100h4M166 101h2M664 101h15M736 101h3M168 102h2M662 102h2M739 102h4M170 103h2M660 103h2M743 103h4M172 104h2M658 104h2M747 104h2M174 105h3M655 105h3M749 105h2M177 106h2M653 106h2M751 106h1M179 107h2M651 107h2M752 107h1M181 108h2M649 108h2M753 108h2M183 109h2M647 109h2M755 109h1M185 110h2M645 110h2M756 110h1M187 111h2M644 111h1M757 111h2M189 112h1M642 112h2M759 112h1M190 113h2M640 113h2M760 113h2M192 114h2M639 114h1M762 114h1M194 115h1M637 115h2M763 115h2M195 116h2M635 116h2M765 116h2M197 117h1M501 117h19M632 117h3M767 117h1M198 118h2M481 118h20M520 118h3M630 118h2M768 118h2M200 119h1M477 119h4M523 119h2M627 119h3M770 119h1M201 120h2M475 120h2M525 120h4M624 120h3M771 120h2M203 121h1M473 121h2M529 121h6M621 121h3M773 121h1M204 122h2M468 122h5M535 122h5M618 122h3M774 122h1M206 123h2M463 123h5M540 123h17M613 123h5M775 123h2M208 124h2M459 124h4M557 124h6M606 124h7M777 124h1M210 125h2M455 125h4M563 125h6M602 125h4M778 125h1M212 126h2M452 126h3M569 126h7M591 126h11M779 126h2M214 127h2M450 127h2M576 127h15M781 127h2M216 128h2M448 128h2M783 128h2M218 129h1M446 129h2M785 129h2M219 130h1M290 130h12M444 130h2M787 130h2M220 131h2M288 131h2M302 131h22M441 131h3M789 131h4M222 132h2M283 132h5M324 132h46M438 132h3M793 132h3M224 133h3M277 133h6M370 133h8M436 133h2M796 133h3M227 134h3M271 134h6M378 134h2M433 134h3M799 134h2M230 135h3M264 135h7M380 135h5M429 135h4M801 135h2M233 136h2M259 136h5M385 136h5M423 136h6M803 136h2M235 137h2M255 137h4M390 137h6M409 137h14M805 137h2M237 138h18M396 138h13M807 138h3M810 139h2M812 140h2M814 141h2M816 142h2M818 143h2M820 144h1M821 145h2M823 146h2M825 147h2M827 148h2M829 149h2M831 150h1M832 151h2M834 152h1M835 153h1M836 154h2M838 155h1M839 156h2M841 157h2M843 158h2M845 159h2M847 160h1M848 161h1M849 162h1M850 163h2M852 164h1M853 165h1M854 166h1M855 167h2M857 168h2M859 169h2M861 170h2M863 171h2M865 172h7M872 173h9M881 174h5M886 175h1M887 176h1M888 177h2M890 178h1M891 179h1M892 180h1M893 181h1M894 182h1M895 183h1M895 184h1M896 185h1M897 186h1M898 187h1M899 188h1M900 189h1M900 190h1M901 191h1M902 192h1M903 193h1M904 194h1M905 195h1M905 196h1M906 197h1M907 198h1M1181 198h1M908 199h1M1180 199h1M908 200h1M1179 200h1M909 201h1M1178 201h1M909 202h1M1177 202h1M910 203h1M1176 203h1M910 204h1M1175 204h1M911 205h1M1174 205h1M911 206h1M1173 206h1M912 207h1M1172 207h1M912 208h1M1171 208h1M913 209h1M1170 209h1M913 210h1M1168 210h2M914 211h1M1167 211h1M914 212h1M1165 212h2M915 213h1M1164 213h1M915 214h1M1162 214h2M916 215h1M1161 215h1M916 216h1M1159 216h2M917 217h1M1158 217h1M917 218h1M1157 218h1M917 219h1M1156 219h1M918 220h1M1154 220h2M918 221h1M1153 221h1M919 222h1M1151 222h2M919 223h1M1149 223h2M920 224h1M1147 224h2M920 225h1M1144 225h3M920 226h1M1142 226h2M921 227h1M1140 227h2M921 228h1M1137 228h3M922 229h1M1134 229h3M922 230h1M1132 230h2M923 231h1M1130 231h2M923 232h1M1129 232h1M924 233h1M1128 233h1M924 234h1M1126 234h2M925 235h1M1124 235h2M925 236h1M1122 236h2M925 237h1M1120 237h2M926 238h1M1109 238h11M926 239h1M1105 239h4M927 240h1M1104 240h1M927 241h1M1103 241h1M928 242h1M1101 242h2M928 243h1M1100 243h1M929 244h1M1099 244h1M929 245h1M1098 245h1M930 246h1M1097 246h1M930 247h1M1096 247h1M931 248h1M1095 248h1M931 249h1M1094 249h1M932 250h1M1093 250h1M933 251h1M1092 251h1M933 252h1M1092 252h1M934 253h1M1091 253h1M935 254h1M1090 254h1M935 255h1M1089 255h1M936 256h1M1089 256h1M937 257h1M1088 257h1M938 258h1M1087 258h1M938 259h1M1086 259h1M939 260h1M1085 260h1M940 261h1M1084 261h1M940 262h1M1083 262h1M941 263h1M1082 263h1M942 264h1M1081 264h1M942 265h1M1080 265h1M943 266h1M1078 266h2M944 267h1M1077 267h1M945 268h1M1076 268h1M945 269h1M1074 269h2M946 270h1M1073 270h1M947 271h1M1072 271h1M948 272h1M1071 272h1M949 273h1M1070 273h1M950 274h1M1069 274h1M950 275h1M1068 275h1M951 276h1M1067 276h1M952 277h1M1066 277h1M953 278h1M1065 278h1M954 279h1M1064 279h1M955 280h1M1063 280h1M956 281h1M1062 281h1M957 282h1M1061 282h1M958 283h1M1060 283h1M959 284h1M1059 284h1M959 285h1M1058 285h1M960 286h1M1057 286h1M961 287h1M1056 287h1M962 288h1M1055 288h1M963 289h1M1054 289h1M964 290h1M1053 290h1M965 291h1M1052 291h1M966 292h1M1051 292h1M967 293h1M1050 293h1M968 294h1M1049 294h1M968 295h1M1049 295h1M969 296h1M1048 296h1M970 297h1M1047 297h1M971 298h1M1047 298h1M972 299h1M1046 299h1M973 300h1M1045 300h1M974 301h1M1045 301h1M975 302h1M1044 302h1M976 303h1M1043 303h1M977 304h1M1042 304h1M977 305h1M1041 305h1M978 306h1M1040 306h1M979 307h1M1040 307h1M980 308h1M1039 308h1M981 309h1M1038 309h1M982 310h1M1037 310h1M983 311h1M1036 311h1M984 312h2M1035 312h1M986 313h1M1034 313h1M987 314h1M1033 314h1M988 315h2M1032 315h1M990 316h1M1031 316h1M991 317h2M1030 317h1M993 318h2M1029 318h1M995 319h2M1027 319h2M997 320h1M1025 320h2M998 321h2M1024 321h1M1000 322h2M1022 322h2M1002 323h2M1020 323h2M1004 324h2M1019 324h1M1006 325h2M1017 325h2M1008 326h9" transform="translate(0 .5)" fill="none" stroke="#0000ff" stroke-width="1" clip-path="url(#cm)"/>
<path d="M94 72h12M89 73h5M106 73h4M84 74h5M110 74h3M78 75h6M113 75h2M73 76h5M115 76h1M65 77h8M116 77h1M58 78h7M117 78h1M54 79h4M118 79h1M37 80h17M119 80h1M35 81h2M120 81h2M33 82h2M122 82h1M31 83h2M123 83h2M29 84h2M125 84h1M28 85h1M126 85h1M26 86h2M127 86h1M25 87h1M127 87h1M662 87h12M24 88h1M128 88h1M658 88h4M674 88h3M23 89h1M129 89h1M656 89h2M677 89h6M22 90h1M130 90h1M654 90h2M683 90h6M21 91h1M131 91h1M653 91h1M689 91h3M20 92h1M132 92h1M651 92h2M692 92h2M18 93h2M133 93h1M650 93h1M694 93h3M14 94h4M133 94h1M648 94h2M697 94h3M12 95h2M134 95h1M647 95h1M700 95h2M10 96h2M135 96h1M645 96h2M702 96h2M8 97h2M136 97h1M644 97h1M704 97h1M6 98h2M137 98h1M642 98h2M705 98h2M138 99h1M641 99h1M707 99h1M138 100h1M639 100h2M708 100h1M139 101h1M637 101h2M709 101h1M139 102h1M635 102h2M710 102h2M140 103h1M633 103h2M712 103h2M140 104h1M631 104h2M714 104h2M141 105h1M629 105h2M716 105h2M142 106h1M627 106h2M718 106h2M142 107h1M625 107h2M720 107h2M143 108h1M623 108h2M722 108h3M143 109h1M477 109h4M621 109h2M725 109h8M144 110h1M469 110h8M481 110h3M619 110h2M733 110h2M145 111h1M461 111h8M484 111h4M617 111h2M735 111h2M146 112h1M452 112h9M488 112h3M615 112h2M737 112h1M147 113h1M450 113h2M491 113h2M613 113h2M738 113h1M148 114h1M447 114h3M493 114h2M610 114h3M739 114h1M149 115h1M444 115h3M495 115h3M604 115h6M740 115h2M150 116h1M294 116h2M442 116h2M498 116h2M601 116h3M742 116h1M151 117h1M292 117h2M296 117h4M441 117h1M500 117h2M599 117h2M743 117h1M152 118h1M289 118h3M300 118h3M440 118h1M502 118h2M597 118h2M744 118h1M153 119h1M287 119h2M303 119h3M439 119h1M504 119h2M595 119h2M745 119h1M154 120h2M285 120h2M306 120h2M438 120h1M506 120h3M593 120h2M746 120h1M156 121h2M283 121h2M308 121h3M436 121h2M509 121h2M591 121h2M747 121h1M158 122h1M281 122h2M311 122h2M434 122h2M511 122h2M590 122h1M748 122h1M159 123h2M280 123h1M313 123h2M433 123h1M513 123h2M588 123h2M749 123h1M161 124h1M278 124h2M315 124h1M431 124h2M515 124h2M586 124h2M750 124h1M162 125h2M277 125h1M316 125h1M428 125h3M517 125h2M584 125h2M751 125h1M164 126h2M276 126h1M317 126h2M423 126h5M519 126h2M582 126h2M752 126h1M166 127h1M275 127h1M319 127h2M420 127h3M521 127h2M580 127h2M753 127h1M167 128h2M274 128h1M321 128h2M417 128h3M523 128h3M578 128h2M754 128h1M169 129h2M273 129h1M323 129h2M415 129h2M526 129h3M575 129h3M755 129h1M171 130h1M272 130h1M325 130h2M413 130h2M529 130h2M572 130h3M756 130h1M172 131h2M271 131h1M327 131h2M411 131h2M531 131h3M568 131h4M757 131h2M174 132h1M269 132h2M329 132h1M409 132h2M534 132h3M559 132h9M759 132h1M175 133h2M267 133h2M330 133h2M407 133h2M537 133h6M550 133h9M760 133h1M177 134h4M264 134h3M332 134h1M405 134h2M543 134h7M761 134h1M181 135h3M261 135h3M333 135h1M403 135h2M762 135h1M184 136h4M259 136h2M334 136h1M401 136h2M763 136h2M188 137h6M257 137h2M335 137h2M400 137h1M765 137h1M194 138h21M256 138h1M337 138h1M398 138h2M766 138h1M215 139h4M255 139h1M338 139h1M396 139h2M767 139h2M219 140h5M253 140h2M339 140h2M395 140h1M769 140h1M224 141h5M250 141h3M341 141h1M394 141h1M770 141h2M229 142h4M247 142h3M342 142h3M393 142h1M772 142h2M233 143h5M245 143h2M345 143h4M392 143h1M774 143h2M238 144h7M349 144h15M390 144h2M776 144h2M364 145h26M778 145h1M779 146h2M781 147h1M782 148h1M783 149h2M785 150h1M786 151h2M788 152h2M790 153h2M792 154h1M793 155h2M807 155h5M795 156h12M812 156h5M817 157h4M821 158h2M823 159h3M826 160h2M828 161h2M830 162h2M832 163h2M834 164h2M836 165h2M838 166h3M841 167h2M1182 167h1M843 168h2M1181 168h1M845 169h1M1181 169h1M846 170h1M1180 170h1M847 171h1M1180 171h1M847 172h1M1179 172h1M848 173h1M1178 173h1M849 174h1M1178 174h1M850 175h1M1177 175h1M851 176h1M1177 176h1M852 177h1M1176 177h1M852 178h1M1176 178h1M853 179h1M1175 179h1M854 180h1M1175 180h1M855 181h1M1174 181h1M856 182h2M1174 182h1M858 183h1M1174 183h1M859 184h1M1173 184h1M860 185h2M1173 185h1M862 186h2M1172 186h1M864 187h2M1172 187h1M866 188h2M1171 188h1M868 189h2M1171 189h1M870 190h14M1170 190h1M884 191h1M1170 191h1M885 192h1M1169 192h1M886 193h2M1169 193h1M888 194h2M1168 194h1M890 195h2M1168 195h1M891 196h1M1167 196h1M892 197h1M1166 197h1M892 198h1M1166 198h1M893 199h1M1165 199h1M893 200h1M1164 200h1M894 201h1M1163 201h1M894 202h1M1163 202h1M895 203h1M1162 203h1M896 204h1M1161 204h1M896 205h1M1160 205h1M897 206h1M1158 206h2M897 207h1M1157 207h1M898 208h1M1156 208h1M899 209h1M1154 209h2M899 210h1M1152 210h2M900 211h1M1150 211h2M900 212h1M1148 212h2M901 213h1M1145 213h3M901 214h1M1141 214h4M902 215h1M1138 215h3M902 216h1M1136 216h2M902 217h1M1134 217h2M903 218h1M1132 218h2M903 219h1M1130 219h2M903 220h1M1129 220h1M904 221h1M1127 221h2M904 222h1M1102 222h8M1126 222h1M905 223h1M1100 223h2M1110 223h3M1125 223h1M905 224h1M1098 224h2M1113 224h2M1124 224h1M906 225h1M1096 225h2M1115 225h2M1124 225h1M906 226h1M1094 226h2M1117 226h3M1123 226h1M907 227h1M1093 227h1M1120 227h3M907 228h1M1091 228h2M908 229h1M1090 229h1M908 230h1M1089 230h1M909 231h1M1088 231h1M909 232h1M1087 232h1M910 233h1M1085 233h2M910 234h1M1084 234h1M911 235h1M1083 235h1M911 236h1M1082 236h1M912 237h1M1080 237h2M912 238h1M1078 238h2M912 239h1M1076 239h2M912 240h1M1073 240h3M913 241h1M1071 241h2M913 242h1M1069 242h2M913 243h1M1066 243h3M913 244h1M1064 244h2M914 245h1M1061 245h3M914 246h1M1059 246h2M914 247h1M1057 247h2M914 248h1M1056 248h1M915 249h1M1055 249h1M915 250h1M1053 250h2M915 251h1M1052 251h1M915 252h1M1051 252h1M916 253h1M1050 253h1M916 254h1M1049 254h1M916 255h1M1048 255h1M916 256h1M1047 256h1M917 257h1M1045 257h2M917 258h1M1043 258h2M917 259h1M1041 259h2M917 260h1M1039 260h2M918 261h1M1037 261h2M918 262h1M1036 262h1M918 263h1M1035 263h1M918 264h1M1033 264h2M919 265h1M1032 265h1M919 266h1M1031 266h1M919 267h1M1030 267h1M919 268h1M1030 268h1M920 269h1M1029 269h1M920 270h1M1029 270h1M920 271h1M1028 271h1M920 272h1M1028 272h1M920 273h1M1027 273h1M921 274h1M1027 274h1M921 275h1M1027 275h1M921 276h1M1026 276h1M921 277h1M1026 277h1M921 278h1M1025 278h1M922 279h1M1025 279h1M922 280h1M1024 280h1M922 281h1M1024 281h1M922 282h1M1023 282h1M923 283h1M1022 283h1M923 284h1M1022 284h1M923 285h1M1021 285h1M923 286h1M1020 286h1M923 287h1M1020 287h1M924 288h1M1019 288h1M924 289h1M1018 289h1M924 290h1M1017 290h1M924 291h1M1017 291h1M925 292h1M1016 292h1M925 293h1M1015 293h1M925 294h1M1014 294h1M925 295h1M1014 295h1M926 296h1M1013 296h1M926 297h1M1011 297h2M926 298h1M1010 298h1M927 299h1M1008 299h2M927 300h1M1007 300h1M927 301h1M1006 301h1M928 302h1M1006 302h1M928 303h1M1005 303h1M928 304h1M1004 304h1M928 305h1M1003 305h1M929 306h1M1003 306h1M929 307h1M1002 307h1M929 308h1M1001 308h1M929 309h1M1000 309h1M930 310h1M1000 310h1M930 311h1M999 311h1M930 312h1M998 312h1M930 313h1M997 313h1M931 314h1M997 314h1M931 315h1M996 315h1M931 316h1M995 316h1M931 317h1M995 317h1M932 318h1M994 318h1M932 319h1M994 319h1M932 320h1M993 320h1M932 321h1M993 321h1M933 322h1M992 322h1M933 323h1M992 323h1M933 324h1M991 324h1M934 325h1M991 325h1M934 326h1M990 326h1M934 327h1M990 327h1M935 328h1M989 328h1M935 329h1M989 329h1M935 330h1M988 330h1M936 331h1M988 331h1M936 332h1M987 332h1M936 333h1M987 333h1M937 334h1M986 334h1M937 335h1M986 335h1M937 336h1M985 336h1M938 337h1M985 337h1M938 338h1M984 338h1M938 339h1M984 339h1M939 340h1M983 340h1M939 341h1M983 341h1M939 342h1M982 342h1M939 343h1M982 343h1M940 344h1M981 344h1M940 345h1M981 345h1M940 346h1M980 346h1M941 347h1M979 347h1M941 348h1M979 348h1M941 349h1M978 349h1M942 350h1M978 350h1M942 351h1M977 351h1M942 352h1M976 352h1M943 353h1M974 353h2M943 354h1M973 354h1M944 355h1M972 355h1M944 356h1M971 356h1M945 357h1M970 357h1M946 358h2M969 358h1M948 359h1M968 359h1M949 360h2M967 360h1M951 361h3M965 361h2M954 362h11" transform="translate(0 .5)" fill="none" stroke="#ff0000" stroke-width="1" clip-path="url(#cm)"/>
<path d="M90 64h3M86 65h4M93 65h2M82 66h4M95 66h1M80 67h2M96 67h1M77 68h3M97 68h1M75 69h2M98 69h1M73 70h2M99 70h1M72 71h1M100 71h1M70 72h2M101 72h1M69 73h1M101 73h1M28 74h3M67 74h2M102 74h1M654 74h4M15 75h4M24 75h4M31 75h2M66 75h1M102 75h1M653 75h1M658 75h3M13 76h2M19 76h5M33 76h9M65 76h1M103 76h1M651 76h2M661 76h1M11 77h2M42 77h1M64 77h1M104 77h1M650 77h1M662 77h1M10 78h1M43 78h1M64 78h1M104 78h1M649 78h1M663 78h1M10 79h1M44 79h1M63 79h1M105 79h1M648 79h1M664 79h1M9 80h1M45 80h1M62 80h1M106 80h1M647 80h1M665 80h1M8 81h1M46 81h1M60 81h2M106 81h1M646 81h1M665 81h1M7 82h1M47 82h1M59 82h1M107 82h1M645 82h1M666 82h1M7 83h1M48 83h1M58 83h1M107 83h1M644 83h1M667 83h1M6 84h1M49 84h1M56 84h2M108 84h1M643 84h1M667 84h1M50 85h1M55 85h1M109 85h1M642 85h1M668 85h1M51 86h1M53 86h2M109 86h1M641 86h1M668 86h1M52 87h1M110 87h1M639 87h2M669 87h1M110 88h1M638 88h1M669 88h1M111 89h1M637 89h1M670 89h1M112 90h1M636 90h1M670 90h1M112 91h1M635 91h1M671 91h1M113 92h1M634 92h1M671 92h1M114 93h1M633 93h1M672 93h1M114 94h1M632 94h1M672 94h1M115 95h1M631 95h1M672 95h1M116 96h1M630 96h1M673 96h1M116 97h1M628 97h2M673 97h1M117 98h1M626 98h2M674 98h1M117 99h1M624 99h2M674 99h1M118 100h1M623 100h1M675 100h1M119 101h1M622 101h1M676 101h1M119 102h1M456 102h3M621 102h1M677 102h1M701 102h3M120 103h1M452 103h4M459 103h2M621 103h1M678 103h1M697 103h4M704 103h2M121 104h1M451 104h1M461 104h2M620 104h1M679 104h1M696 104h1M706 104h2M122 105h1M449 105h2M463 105h1M619 105h1M680 105h1M694 105h2M708 105h2M123 106h2M448 106h1M464 106h2M618 106h1M681 106h1M693 106h1M710 106h3M125 107h1M447 107h1M466 107h1M616 107h2M682 107h1M692 107h1M713 107h2M126 108h1M446 108h1M467 108h2M615 108h1M683 108h2M690 108h2M715 108h2M127 109h1M445 109h1M469 109h1M597 109h4M613 109h2M685 109h1M688 109h2M717 109h1M128 110h1M276 110h13M443 110h2M470 110h2M594 110h3M601 110h2M611 110h2M686 110h2M718 110h2M129 111h1M274 111h2M289 111h1M442 111h1M472 111h1M593 111h1M603 111h8M720 111h1M129 112h1M272 112h2M290 112h1M441 112h1M473 112h2M592 112h1M721 112h2M130 113h1M270 113h2M291 113h1M440 113h1M475 113h1M592 113h1M723 113h2M131 114h1M267 114h3M292 114h1M439 114h1M476 114h2M591 114h1M725 114h2M132 115h1M265 115h2M293 115h1M438 115h1M478 115h1M590 115h1M727 115h1M133 116h1M263 116h2M294 116h1M409 116h4M438 116h1M479 116h1M588 116h2M728 116h1M133 117h1M262 117h1M294 117h1M407 117h2M413 117h3M437 117h1M480 117h2M586 117h2M729 117h1M134 118h1M260 118h2M295 118h1M406 118h1M416 118h2M436 118h1M482 118h1M584 118h2M730 118h1M135 119h1M259 119h1M296 119h1M405 119h1M418 119h1M434 119h2M483 119h1M582 119h2M731 119h1M136 120h1M258 120h1M297 120h1M405 120h1M419 120h3M432 120h2M484 120h1M569 120h3M580 120h2M732 120h1M136 121h1M257 121h1M298 121h1M404 121h1M422 121h10M485 121h1M566 121h3M572 121h4M578 121h2M733 121h1M137 122h1M257 122h1M298 122h1M403 122h1M486 122h1M565 122h1M576 122h2M734 122h1M138 123h1M256 123h1M299 123h1M402 123h1M487 123h1M563 123h2M735 123h1M1182 123h1M138 124h1M256 124h1M299 124h1M401 124h1M488 124h2M562 124h1M736 124h1M1182 124h1M139 125h1M255 125h1M300 125h1M400 125h1M490 125h2M561 125h1M737 125h1M1181 125h1M139 126h1M255 126h1M300 126h1M400 126h1M492 126h2M560 126h1M738 126h1M1181 126h1M140 127h1M254 127h1M301 127h1M399 127h1M494 127h2M558 127h2M739 127h1M1181 127h1M141 128h1M254 128h1M301 128h1M398 128h1M496 128h14M557 128h1M740 128h1M1180 128h1M141 129h1M253 129h1M302 129h1M397 129h1M510 129h3M556 129h1M741 129h1M1180 129h1M142 130h1M252 130h1M303 130h1M396 130h1M513 130h3M555 130h1M742 130h1M1180 130h1M143 131h1M252 131h1M304 131h1M395 131h1M516 131h2M554 131h1M742 131h1M1180 131h1M144 132h1M251 132h1M305 132h1M394 132h1M518 132h2M554 132h1M743 132h1M1179 132h1M144 133h1M251 133h1M306 133h1M394 133h1M520 133h2M553 133h1M744 133h1M1179 133h1M145 134h1M166 134h1M250 134h1M307 134h1M393 134h1M522 134h3M552 134h1M745 134h1M1179 134h1M146 135h1M164 135h2M167 135h1M250 135h1M308 135h1M392 135h1M525 135h3M550 135h2M745 135h1M1178 135h1M147 136h17M168 136h2M249 136h1M309 136h1M382 136h2M390 136h2M528 136h3M548 136h2M746 136h1M1178 136h1M170 137h1M249 137h1M310 137h2M380 137h2M384 137h2M388 137h2M531 137h4M547 137h1M747 137h1M1178 137h1M171 138h2M182 138h17M248 138h1M312 138h1M378 138h2M386 138h2M535 138h4M545 138h2M748 138h1M1178 138h1M173 139h4M180 139h2M199 139h4M248 139h1M313 139h1M377 139h1M539 139h2M543 139h2M748 139h1M1177 139h1M177 140h3M203 140h6M247 140h1M314 140h4M376 140h1M541 140h2M749 140h1M1177 140h1M209 141h6M246 141h1M318 141h11M374 141h2M749 141h1M1177 141h1M215 142h4M246 142h1M329 142h2M373 142h1M750 142h1M1177 142h1M219 143h3M245 143h1M331 143h1M372 143h1M750 143h1M1176 143h1M222 144h2M244 144h1M332 144h1M370 144h2M751 144h1M1176 144h1M224 145h2M244 145h1M333 145h1M368 145h2M752 145h1M1176 145h1M226 146h1M243 146h1M334 146h1M355 146h13M752 146h1M1176 146h1M227 147h2M242 147h1M335 147h2M353 147h2M753 147h1M1175 147h1M229 148h2M241 148h1M337 148h1M351 148h2M753 148h1M1175 148h1M231 149h2M240 149h1M338 149h1M349 149h2M754 149h1M1175 149h1M233 150h2M238 150h2M339 150h4M347 150h2M754 150h1M1175 150h1M235 151h3M343 151h4M755 151h1M1174 151h1M756 152h1M807 152h4M1174 152h1M757 153h2M803 153h4M811 153h2M1174 153h1M759 154h1M774 154h7M801 154h2M813 154h1M1173 154h1M760 155h1M772 155h2M781 155h3M799 155h2M814 155h1M1173 155h1M761 156h2M770 156h2M784 156h3M796 156h3M815 156h1M1173 156h1M763 157h2M768 157h2M787 157h3M793 157h3M816 157h1M1173 157h1M765 158h3M790 158h3M817 158h1M1172 158h1M818 159h1M1172 159h1M819 160h1M1172 160h1M819 161h1M1172 161h1M820 162h1M1172 162h1M821 163h1M1171 163h1M822 164h1M1171 164h1M823 165h1M1171 165h1M824 166h1M1171 166h1M825 167h1M1171 167h1M826 168h1M1170 168h1M827 169h1M1170 169h1M828 170h1M1169 170h1M829 171h1M1169 171h1M830 172h1M1168 172h1M831 173h1M1168 173h1M831 174h1M1167 174h1M832 175h1M1167 175h1M833 176h1M1166 176h1M834 177h1M1166 177h1M835 178h1M882 178h1M1165 178h1M836 179h1M881 179h1M883 179h1M1165 179h1M837 180h2M880 180h1M883 180h1M1164 180h1M839 181h1M879 181h1M884 181h1M1164 181h1M840 182h1M878 182h1M885 182h1M1163 182h1M841 183h1M877 183h1M886 183h1M1163 183h1M842 184h1M877 184h1M886 184h1M1162 184h1M843 185h2M876 185h1M887 185h1M1162 185h1M845 186h1M875 186h1M887 186h1M1161 186h1M846 187h1M874 187h1M888 187h1M1160 187h1M847 188h1M874 188h1M888 188h1M1160 188h1M847 189h1M873 189h1M889 189h1M1159 189h1M848 190h1M873 190h1M889 190h1M1158 190h1M848 191h1M872 191h1M890 191h1M1158 191h1M849 192h1M872 192h1M890 192h1M1157 192h1M849 193h1M871 193h1M891 193h1M1157 193h1M850 194h1M871 194h1M891 194h1M1156 194h1M850 195h1M870 195h1M892 195h1M1156 195h1M851 196h1M870 196h1M892 196h1M1153 196h3M851 197h1M869 197h1M892 197h1M1150 197h3M851 198h1M868 198h1M892 198h1M1149 198h1M852 199h1M868 199h1M893 199h1M1142 199h4M1147 199h2M852 200h1M867 200h1M893 200h1M1139 200h3M1146 200h1M853 201h1M867 201h1M893 201h1M1138 201h1M853 202h1M866 202h1M893 202h1M1138 202h1M854 203h1M865 203h1M893 203h1M1137 203h1M855 204h1M863 204h2M893 204h1M1136 204h1M856 205h1M862 205h1M894 205h1M1135 205h1M856 206h1M861 206h1M894 206h1M1135 206h1M857 207h1M859 207h2M894 207h1M1134 207h1M858 208h1M894 208h1M1133 208h1M894 209h1M1133 209h1M894 210h1M1132 210h1M894 211h1M1132 211h1M895 212h1M1131 212h1M895 213h1M1103 213h2M1131 213h1M895 214h1M1102 214h1M1105 214h2M1130 214h1M895 215h1M1101 215h1M1107 215h1M1130 215h1M895 216h1M1101 216h1M1108 216h1M1129 216h1M895 217h1M1099 217h2M1108 217h1M1129 217h1M895 218h1M1096 218h3M1109 218h1M1128 218h1M895 219h1M1065 219h2M1094 219h2M1109 219h1M1128 219h1M896 220h1M1062 220h3M1067 220h2M1093 220h1M1110 220h1M1127 220h1M896 221h1M1062 221h1M1069 221h2M1093 221h1M1111 221h1M1127 221h1M896 222h1M1061 222h1M1071 222h1M1092 222h1M1111 222h1M1126 222h1M896 223h1M1061 223h1M1072 223h1M1091 223h1M1112 223h1M1126 223h1M896 224h1M1060 224h1M1073 224h1M1091 224h1M1113 224h1M1125 224h1M896 225h1M1060 225h1M1073 225h1M1090 225h1M1113 225h1M1125 225h1M896 226h1M1059 226h1M1074 226h1M1089 226h1M1114 226h1M1124 226h1M896 227h1M1059 227h1M1075 227h1M1089 227h1M1115 227h1M1124 227h1M897 228h1M1059 228h1M1076 228h1M1088 228h1M1115 228h1M1123 228h1M897 229h1M1058 229h1M1077 229h1M1088 229h1M1116 229h1M1123 229h1M897 230h1M1058 230h1M1077 230h1M1087 230h1M1117 230h2M1122 230h1M897 231h1M1057 231h1M1078 231h1M1087 231h1M1119 231h1M1121 231h1M897 232h1M1057 232h1M1079 232h1M1086 232h1M1120 232h1M897 233h1M1057 233h1M1080 233h1M1086 233h1M898 234h1M1056 234h1M1080 234h1M1084 234h2M898 235h1M1056 235h1M1081 235h3M898 236h1M1055 236h1M898 237h1M1055 237h1M898 238h1M1054 238h1M898 239h1M1054 239h1M899 240h1M1054 240h1M899 241h1M1053 241h1M899 242h1M1053 242h1M899 243h1M1052 243h1M899 244h1M1052 244h1M899 245h1M1051 245h1M900 246h1M1051 246h1M900 247h1M1051 247h1M900 248h1M1050 248h1M900 249h1M1050 249h1M900 250h1M1050 250h1M900 251h1M1049 251h1M900 252h1M1049 252h1M901 253h1M1048 253h1M901 254h1M1009 254h6M1048 254h1M901 255h1M1006 255h3M1015 255h5M1048 255h1M901 256h1M1006 256h1M1020 256h2M1047 256h1M901 257h1M1005 257h1M1022 257h2M1045 257h3M901 258h1M1005 258h1M1024 258h2M1041 258h4M902 259h1M1005 259h1M1026 259h2M1037 259h4M902 260h1M1004 260h1M1028 260h2M1033 260h4M902 261h1M1004 261h1M1030 261h3M902 262h1M1004 262h1M902 263h1M1003 263h1M902 264h1M1003 264h1M903 265h1M1003 265h1M903 266h1M1002 266h1M903 267h1M1002 267h1M903 268h1M1002 268h1M903 269h1M1001 269h1M903 270h1M1001 270h1M904 271h1M1000 271h1M904 272h1M1000 272h1M904 273h1M1000 273h1M904 274h1M999 274h1M904 275h1M999 275h1M905 276h1M999 276h1M905 277h1M998 277h1M905 278h1M998 278h1M905 279h1M998 279h1M905 280h1M998 280h1M906 281h1M997 281h1M906 282h1M997 282h1M906 283h1M997 283h1M906 284h1M997 284h1M907 285h1M996 285h1M907 286h1M996 286h1M907 287h1M996 287h1M907 288h1M996 288h1M908 289h1M995 289h1M908 290h1M995 290h1M908 291h1M995 291h1M908 292h1M995 292h1M908 293h1M994 293h1M908 294h1M994 294h1M908 295h1M994 295h1M908 296h1M994 296h1M908 297h1M993 297h1M908 298h1M993 298h1M908 299h1M993 299h1M909 300h1M993 300h1M909 301h1M992 301h1M909 302h1M992 302h1M909 303h1M992 303h1M909 304h1M991 304h1M909 305h1M991 305h1M909 306h1M991 306h1M909 307h1M991 307h1M909 308h1M990 308h1M909 309h1M990 309h1M909 310h1M990 310h1M910 311h1M989 311h1M910 312h1M989 312h1M910 313h1M989 313h1M910 314h1M989 314h1M910 315h1M962 315h1M988 315h1M910 316h1M961 316h1M963 316h1M988 316h1M910 317h1M961 317h1M963 317h1M988 317h1M911 318h1M960 318h1M964 318h1M988 318h1M911 319h1M960 319h1M965 319h1M988 319h1M911 320h1M959 320h1M966 320h1M987 320h1M911 321h1M959 321h1M966 321h1M987 321h1M911 322h1M958 322h1M967 322h1M987 322h1M911 323h1M958 323h1M967 323h1M987 323h1M912 324h1M957 324h1M968 324h1M987 324h1M912 325h1M957 325h1M968 325h1M987 325h1M912 326h1M956 326h1M968 326h1M986 326h1M912 327h1M956 327h1M969 327h1M986 327h1M912 328h1M956 328h1M969 328h1M986 328h1M912 329h1M955 329h1M970 329h1M986 329h1M912 330h1M955 330h1M970 330h1M985 330h1M913 331h1M955 331h1M970 331h1M985 331h1M913 332h1M954 332h1M971 332h1M984 332h1M913 333h1M954 333h1M971 333h1M984 333h1M913 334h1M954 334h1M971 334h1M984 334h1M913 335h1M953 335h1M972 335h1M983 335h1M913 336h1M953 336h1M972 336h1M983 336h1M914 337h1M953 337h1M973 337h1M982 337h1M914 338h1M952 338h1M973 338h1M982 338h1M914 339h1M952 339h1M974 339h2M981 339h1M914 340h1M952 340h1M976 340h2M979 340h2M914 341h1M952 341h1M978 341h1M914 342h1M951 342h1M915 343h1M951 343h1M915 344h1M951 344h1M915 345h1M951 345h1M915 346h1M950 346h1M915 347h1M950 347h1M916 348h1M950 348h1M916 349h1M950 349h1M916 350h1M949 350h1M916 351h1M949 351h1M916 352h1M949 352h1M917 353h1M949 353h1M917 354h1M948 354h1M917 355h1M948 355h1M917 356h1M948 356h1M918 357h1M948 357h1M918 358h1M947 358h1M918 359h1M947 359h1M918 360h1M947 360h1M919 361h1M947 361h1M919 362h1M946 362h1M919 363h1M946 363h1M919 364h1M946 364h1M920 365h1M946 365h1M920 366h1M946 366h1M920 367h1M945 367h1M920 368h1M945 368h1M921 369h1M945 369h1M921 370h1M945 370h1M921 371h1M945 371h1M921 372h1M945 372h1M922 373h1M944 373h1M922 374h1M944 374h1M922 375h1M944 375h1M922 376h1M944 376h1M923 377h1M944 377h1M923 378h1M944 378h1M923 379h1M943 379h1M923 380h1M943 380h1M923 381h1M943 381h1M924 382h1M943 382h1M924 383h1M943 383h1M924 384h1M942 384h1M924 385h1M942 385h1M924 386h1M942 386h1M924 387h1M942 387h1M925 388h1M941 388h1M925 389h1M941 389h1M925 390h1M941 390h1M925 391h1M941 391h1M925 392h1M940 392h1M926 393h1M940 393h1M926 394h1M939 394h1M926 395h1M939 395h1M926 396h1M938 396h1M927 397h1M937 397h1M927 398h1M936 398h1M927 399h1M936 399h1M928 400h1M935 400h1M928 401h1M934 401h1M928 402h1M934 402h1M929 403h1M933 403h1M929 404h1M932 404h1M929 405h1M931 405h1M930 406h2M930 407h1" transform="translate(0 .5)" fill="none" stroke="#ffa500" stroke-width="1" clip-path="url(#cm)"/>
<rect x="6" y="45" width="1484" height="2" fill="#ff0000"/>
<rect x="5" y="43" width="6" height="6" fill="#ff0000"/>
<rect x="7" y="45" width="2" height="2" fill="#fff"/>
<rect x="1484" y="43" width="6" height="6" fill="#ff0000"/>
<rect x="1486" y="45" width="2" height="2" fill="#fff"/>
<rect x="6" y="95" width="1484" height="2" fill="#ff0000"/>
<rect x="5" y="93" width="6" height="6" fill="#ff0000"/>
<rect x="7" y="95" width="2" height="2" fill="#fff"/>
<rect x="1484" y="93" width="6" height="6" fill="#ff0000"/>
<rect x="1486" y="95" width="2" height="2" fill="#fff"/>
<rect x="6" y="157" width="1484" height="2" fill="#00ff00"/>
<rect x="5" y="155" width="6" height="6" fill="#00ff00"/>
<rect x="7" y="157" width="2" height="2" fill="#fff"/>
<rect x="1484" y="155" width="6" height="6" fill="#00ff00"/>
<rect x="1486" y="157" width="2" height="2" fill="#fff"/>
<rect x="6" y="213" width="1484" height="2" fill="#0000ff"/>
<rect x="5" y="211" width="6" height="6" fill="#0000ff"/>
<rect x="7" y="213" width="2" height="2" fill="#fff"/>
<rect x="1484" y="211" width="6" height="6" fill="#0000ff"/>
<rect x="1486" y="213" width="2" height="2" fill="#fff"/>
<rect x="6" y="269" width="1484" height="2" fill="#0000ff"/>
<rect x="5" y="267" width="6" height="6" fill="#0000ff"/>
<rect x="7" y="269" width="2" height="2" fill="#fff"/>
<rect x="1484" y="267" width="6" height="6" fill="#0000ff"/>
<rect x="1486" y="269" width="2" height="2" fill="#fff"/>
<rect x="6" y="324" width="1484" height="2" fill="#0000ff"/>
<rect x="5" y="28" width="1" height="654" fill="#000"/>
<rect x="5" y="43" width="6" height="6" fill="#ff0000"/>
<rect x="7" y="45" width="2" height="2" fill="#fff"/>
<rect x="5" y="93" width="6" height="6" fill="#ff0000"/>
<rect x="7" y="95" width="2" height="2" fill="#fff"/>
<rect x="5" y="155" width="6" height="6" fill="#00ff00"/>
<rect x="7" y="157" width="2" height="2" fill="#fff"/>
<rect x="5" y="211" width="6" height="6" fill="#0000ff"/>
<rect x="7" y="213" width="2" height="2" fill="#fff"/>
<rect x="5" y="267" width="6" height="6" fill="#0000ff"/>
<rect x="7" y="269" width="2" height="2" fill="#fff"/>
<path d="M9 35h7l-3.5 4z" fill="#000"/>
<text x="21.7" y="40" font-size="10" fill="#000" stroke="#000" stroke-width="0.2" textLength="64.3" lengthAdjust="spacingAndGlyphs" xml:space="preserve">AUDUSD,Daily</text>
<text x="92.8" y="40" font-size="10" fill="#000" stroke="#000" stroke-width="0.2" textLength="141.5" lengthAdjust="spacingAndGlyphs" xml:space="preserve">0.69470 0.69501 0.68908 0.69091</text>
<rect x="1491" y="39" width="2" height="1" fill="#000"/>
<text x="1496" y="43" font-size="10" fill="#000" stroke="#000" stroke-width="0.2" textLength="33.8" lengthAdjust="spacingAndGlyphs" xml:space="preserve">0.71245</text>
<rect x="1491" y="72" width="2" height="1" fill="#000"/>
<text x="1496" y="76" font-size="10" fill="#000" stroke="#000" stroke-width="0.2" textLength="33.8" lengthAdjust="spacingAndGlyphs" xml:space="preserve">0.70090</text>
<rect x="1491" y="105" width="2" height="1" fill="#000"/>
<text x="1496" y="109" font-size="10" fill="#000" stroke="#000" stroke-width="0.2" textLength="33.8" lengthAdjust="spacingAndGlyphs" xml:space="preserve">0.68900</text>
<rect x="1491" y="138" width="2" height="1" fill="#000"/>
<text x="1496" y="142" font-size="10" fill="#000" stroke="#000" stroke-width="0.2" textLength="33.8" lengthAdjust="spacingAndGlyphs" xml:space="preserve">0.67745</text>
<rect x="1491" y="171" width="2" height="1" fill="#000"/>
<text x="1496" y="175" font-size="10" fill="#000" stroke="#000" stroke-width="0.2" textLength="33.8" lengthAdjust="spacingAndGlyphs" xml:space="preserve">0.66555</text>
<rect x="1491" y="204" width="2" height="1" fill="#000"/>
<text x="1496" y="208" font-size="10" fill="#000" stroke="#000" stroke-width="0.2" textLength="33.8" lengthAdjust="spacingAndGlyphs" xml:space="preserve">0.65365</text>
<rect x="1491" y="237" width="2" height="1" fill="#000"/>
<text x="1496" y="241" font-size="10" fill="#000" stroke="#000" stroke-width="0.2" textLength="33.8" lengthAdjust="spacingAndGlyphs" xml:space="preserve">0.64210</text>
<rect x="1491" y="270" width="2" height="1" fill="#000"/>
<text x="1496" y="274" font-size="10" fill="#000" stroke="#000" stroke-width="0.2" textLength="33.8" lengthAdjust="spacingAndGlyphs" xml:space="preserve">0.63020</text>
<rect x="1491" y="303" width="2" height="1" fill="#000"/>
<text x="1496" y="307" font-size="10" fill="#000" stroke="#000" stroke-width="0.2" textLength="33.8" lengthAdjust="spacingAndGlyphs" xml:space="preserve">0.61830</text>
<rect x="1491" y="336" width="2" height="1" fill="#000"/>
<text x="1496" y="340" font-size="10" fill="#000" stroke="#000" stroke-width="0.2" textLength="33.8" lengthAdjust="spacingAndGlyphs" xml:space="preserve">0.60675</text>
<rect x="1491" y="369" width="2" height="1" fill="#000"/>
<text x="1496" y="373" font-size="10" fill="#000" stroke="#000" stroke-width="0.2" textLength="33.8" lengthAdjust="spacingAndGlyphs" xml:space="preserve">0.59485</text>
<rect x="1491" y="402" width="2" height="1" fill="#000"/>
<text x="1496" y="406" font-size="10" fill="#000" stroke="#000" stroke-width="0.2" textLength="33.8" lengthAdjust="spacingAndGlyphs" xml:space="preserve">0.58295</text>
<rect x="1491" y="435" width="2" height="1" fill="#000"/>
<text x="1496" y="439" font-size="10" fill="#000" stroke="#000" stroke-width="0.2" textLength="33.8" lengthAdjust="spacingAndGlyphs" xml:space="preserve">0.57140</text>
<rect x="1491" y="468" width="2" height="1" fill="#000"/>
<text x="1496" y="472" font-size="10" fill="#000" stroke="#000" stroke-width="0.2" textLength="33.8" lengthAdjust="spacingAndGlyphs" xml:space="preserve">0.55950</text>
<rect x="1491" y="501" width="2" height="1" fill="#000"/>
<text x="1496" y="505" font-size="10" fill="#000" stroke="#000" stroke-width="0.2" textLength="33.8" lengthAdjust="spacingAndGlyphs" xml:space="preserve">0.54795</text>
<rect x="1492" y="95" width="41" height="11" fill="#000"/>
<text x="1496" y="104" font-size="10" fill="#fff" stroke="#fff" stroke-width="0.2" textLength="33.8" lengthAdjust="spacingAndGlyphs" xml:space="preserve">0.69091</text>
<rect x="1492" y="40" width="41" height="11" fill="#ff0000"/>
<text x="1496" y="49" font-size="10" fill="#fff" stroke="#fff" stroke-width="0.2" textLength="33.8" lengthAdjust="spacingAndGlyphs" xml:space="preserve">0.71016</text>
<rect x="1492" y="90" width="41" height="11" fill="#ff0000"/>
<text x="1496" y="99" font-size="10" fill="#fff" stroke="#fff" stroke-width="0.2" textLength="33.8" lengthAdjust="spacingAndGlyphs" xml:space="preserve">0.69218</text>
<rect x="1492" y="152" width="41" height="11" fill="#00ff00"/>
<text x="1496" y="161" font-size="10" fill="#fff" stroke="#fff" stroke-width="0.2" textLength="33.8" lengthAdjust="spacingAndGlyphs" xml:space="preserve">0.67003</text>
<rect x="1492" y="208" width="41" height="11" fill="#0000ff"/>
<text x="1496" y="217" font-size="10" fill="#fff" stroke="#fff" stroke-width="0.2" textLength="33.8" lengthAdjust="spacingAndGlyphs" xml:space="preserve">0.65024</text>
<rect x="1492" y="264" width="41" height="11" fill="#0000ff"/>
<text x="1496" y="273" font-size="10" fill="#fff" stroke="#fff" stroke-width="0.2" textLength="33.8" lengthAdjust="spacingAndGlyphs" xml:space="preserve">0.63011</text>
<rect x="1492" y="319" width="41" height="11" fill="#0000ff"/>
<text x="1496" y="328" font-size="10" fill="#fff" stroke="#fff" stroke-width="0.2" textLength="33.8" lengthAdjust="spacingAndGlyphs" xml:space="preserve">0.61065</text>
<clipPath id="cr"><rect x="6" y="507" width="1484" height="86"/></clipPath>
<path d="M7 533.5H1490" stroke="#c0c0c0" stroke-width="1" stroke-dasharray="3 3" fill="none"/>
<path d="M7 567.5H1490" stroke="#c0c0c0" stroke-width="1" stroke-dasharray="3 3" fill="none"/>
<path d="M646 528h1M1178 528h2M645 529h1M647 529h2M1176 529h2M1180 529h2M643 530h2M649 530h1M1174 530h2M1182 530h1M642 531h1M650 531h1M1173 531h1M640 532h2M651 532h1M1171 532h2M634 533h6M651 533h1M1170 533h1M633 534h1M652 534h1M1169 534h1M632 535h1M653 535h1M1169 535h1M13 536h1M442 536h4M632 536h1M654 536h1M1168 536h1M11 537h3M440 537h2M446 537h2M582 537h1M631 537h1M654 537h1M1006 537h1M1057 537h5M1150 537h1M1168 537h1M9 538h2M14 538h1M258 538h2M401 538h6M438 538h2M448 538h2M581 538h1M583 538h1M621 538h2M629 538h2M655 538h1M1004 538h2M1007 538h1M1054 538h3M1062 538h1M1130 538h1M1149 538h1M1151 538h1M1158 538h2M1167 538h1M7 539h2M14 539h1M257 539h1M260 539h2M273 539h5M399 539h2M407 539h1M435 539h3M450 539h3M581 539h1M584 539h1M619 539h2M623 539h2M627 539h2M655 539h1M1002 539h2M1007 539h1M1052 539h2M1062 539h1M1128 539h2M1131 539h1M1149 539h1M1152 539h1M1157 539h1M1160 539h2M1167 539h1M6 540h1M15 540h1M26 540h3M250 540h3M255 540h2M262 540h2M270 540h3M278 540h1M396 540h3M408 540h1M432 540h3M453 540h8M580 540h1M584 540h1M594 540h1M610 540h2M616 540h3M625 540h2M656 540h1M998 540h4M1008 540h1M1050 540h2M1063 540h1M1089 540h6M1126 540h2M1132 540h1M1148 540h1M1152 540h1M1156 540h1M1162 540h5M15 541h1M25 541h1M29 541h2M65 541h1M249 541h1M253 541h2M264 541h2M268 541h2M279 541h2M393 541h3M408 541h1M430 541h2M461 541h1M554 541h1M580 541h1M585 541h1M592 541h3M609 541h1M612 541h4M656 541h1M994 541h4M1008 541h1M1026 541h1M1049 541h1M1063 541h1M1086 541h3M1095 541h1M1125 541h1M1132 541h1M1147 541h1M1153 541h1M1155 541h1M15 542h1M24 542h1M30 542h1M63 542h2M66 542h2M78 542h13M248 542h1M266 542h2M281 542h1M392 542h1M409 542h1M429 542h1M462 542h1M553 542h1M555 542h1M579 542h1M586 542h2M590 542h2M595 542h1M608 542h1M657 542h1M991 542h3M1009 542h1M1024 542h3M1047 542h2M1064 542h1M1085 542h1M1096 542h1M1123 542h2M1133 542h1M1147 542h1M1154 542h1M16 543h1M23 543h1M31 543h1M61 543h2M68 543h2M76 543h2M90 543h1M248 543h1M282 543h3M391 543h1M410 543h1M428 543h1M463 543h1M551 543h2M555 543h1M579 543h1M588 543h2M595 543h1M607 543h1M657 543h1M990 543h1M1009 543h1M1018 543h6M1027 543h1M1038 543h3M1045 543h2M1065 543h1M1078 543h1M1085 543h1M1096 543h1M1102 543h1M1121 543h2M1134 543h1M1145 543h2M16 544h1M22 544h1M31 544h1M59 544h2M70 544h6M91 544h1M247 544h1M285 544h2M390 544h1M411 544h1M426 544h2M463 544h1M550 544h1M556 544h1M578 544h1M596 544h1M606 544h1M658 544h5M988 544h2M1010 544h2M1017 544h1M1027 544h1M1037 544h1M1041 544h4M1065 544h1M1077 544h1M1079 544h1M1084 544h1M1097 544h1M1100 544h2M1103 544h2M1121 544h1M1135 544h2M1142 544h3M17 545h1M21 545h1M32 545h1M58 545h1M91 545h1M246 545h1M287 545h1M390 545h1M412 545h1M425 545h1M464 545h1M549 545h1M557 545h1M565 545h3M578 545h1M596 545h1M604 545h2M663 545h1M987 545h1M1012 545h2M1015 545h2M1028 545h1M1036 545h1M1066 545h2M1076 545h1M1080 545h1M1083 545h1M1098 545h2M1105 545h1M1120 545h1M1137 545h1M1140 545h2M17 546h1M20 546h1M32 546h1M56 546h2M92 546h1M245 546h1M288 546h1M370 546h5M389 546h1M413 546h1M417 546h3M423 546h2M464 546h1M548 546h1M557 546h1M561 546h4M568 546h2M577 546h1M597 546h1M602 546h2M664 546h1M986 546h1M1014 546h1M1028 546h1M1035 546h1M1068 546h2M1075 546h1M1081 546h1M1083 546h1M1106 546h1M1120 546h1M1138 546h2M18 547h2M33 547h1M55 547h1M92 547h1M244 547h1M289 547h1M369 547h1M375 547h1M389 547h1M414 547h3M420 547h3M465 547h1M547 547h1M558 547h3M570 547h1M577 547h1M597 547h1M600 547h2M665 547h1M984 547h2M1029 547h1M1034 547h1M1070 547h5M1082 547h1M1107 547h1M1119 547h1M18 548h1M33 548h1M38 548h1M54 548h1M93 548h1M243 548h1M290 548h1M368 548h1M376 548h1M388 548h1M465 548h1M547 548h1M571 548h1M576 548h1M598 548h2M666 548h1M983 548h1M1029 548h1M1033 548h1M1107 548h1M1119 548h1M34 549h1M36 549h2M39 549h2M52 549h2M93 549h1M242 549h1M290 549h1M368 549h1M376 549h1M388 549h1M466 549h3M546 549h1M571 549h1M576 549h1M666 549h1M982 549h1M1030 549h3M1108 549h1M1119 549h1M34 550h2M41 550h1M51 550h1M94 550h1M241 550h1M291 550h1M367 550h1M377 550h1M387 550h1M469 550h4M546 550h1M572 550h1M575 550h1M667 550h1M881 550h2M981 550h1M1030 550h1M1109 550h1M1118 550h1M42 551h1M50 551h1M94 551h1M240 551h1M291 551h1M350 551h1M366 551h1M378 551h2M387 551h1M473 551h4M545 551h1M573 551h1M575 551h1M667 551h1M684 551h17M878 551h3M882 551h1M950 551h1M980 551h1M1110 551h9M43 552h1M49 552h1M95 552h2M240 552h1M292 552h1M348 552h2M351 552h1M365 552h1M380 552h2M386 552h1M477 552h2M545 552h1M573 552h2M668 552h1M681 552h3M701 552h1M876 552h2M883 552h1M949 552h1M951 552h2M979 552h1M43 553h1M48 553h1M97 553h1M239 553h1M293 553h1M346 553h2M352 553h1M365 553h1M382 553h5M479 553h1M502 553h1M545 553h1M574 553h1M668 553h1M681 553h1M702 553h2M873 553h3M883 553h1M947 553h2M953 553h1M978 553h1M44 554h1M48 554h1M98 554h1M238 554h1M293 554h1M310 554h1M344 554h2M352 554h1M364 554h1M480 554h2M500 554h2M503 554h2M544 554h1M669 554h1M680 554h1M704 554h1M794 554h2M862 554h11M883 554h1M946 554h1M954 554h7M977 554h1M45 555h1M47 555h1M99 555h1M238 555h1M294 555h1M309 555h1M311 555h1M343 555h1M353 555h1M363 555h1M482 555h1M498 555h2M505 555h1M544 555h1M669 555h1M680 555h1M705 555h1M793 555h1M796 555h2M862 555h1M883 555h1M945 555h1M961 555h2M977 555h1M46 556h1M100 556h1M210 556h2M237 556h1M294 556h1M308 556h1M311 556h1M343 556h1M354 556h2M363 556h1M482 556h1M490 556h8M506 556h2M544 556h1M670 556h1M679 556h1M706 556h7M793 556h1M798 556h2M861 556h1M884 556h1M944 556h1M963 556h2M976 556h1M101 557h1M194 557h1M209 557h1M212 557h2M237 557h1M295 557h1M307 557h1M312 557h1M322 557h6M342 557h1M356 557h2M361 557h2M483 557h1M489 557h1M508 557h2M544 557h1M670 557h1M679 557h1M713 557h4M792 557h1M800 557h2M861 557h1M884 557h1M943 557h1M965 557h2M975 557h1M102 558h1M174 558h3M181 558h2M193 558h1M195 558h2M208 558h1M214 558h2M236 558h1M296 558h2M306 558h1M312 558h1M320 558h2M328 558h1M342 558h1M358 558h3M483 558h1M489 558h1M510 558h3M526 558h3M543 558h1M671 558h2M678 558h1M717 558h2M791 558h1M802 558h2M810 558h1M861 558h1M884 558h1M942 558h1M967 558h2M975 558h1M103 559h1M173 559h1M177 559h4M183 559h2M191 559h2M197 559h1M207 559h1M216 559h2M236 559h1M298 559h1M304 559h2M313 559h1M318 559h2M329 559h1M341 559h1M484 559h1M488 559h1M513 559h4M525 559h1M529 559h2M543 559h1M673 559h1M677 559h2M719 559h1M726 559h1M791 559h1M804 559h2M808 559h2M811 559h1M860 559h1M885 559h1M941 559h1M969 559h6M104 560h1M173 560h1M185 560h2M189 560h2M198 560h2M206 560h1M218 560h3M235 560h1M299 560h2M302 560h2M313 560h1M316 560h2M330 560h1M341 560h1M484 560h1M488 560h1M517 560h3M524 560h1M531 560h2M543 560h1M674 560h3M720 560h1M725 560h1M727 560h2M790 560h1M806 560h2M812 560h1M860 560h1M885 560h1M890 560h1M941 560h1M105 561h1M166 561h1M172 561h1M187 561h2M200 561h2M204 561h2M221 561h2M235 561h1M301 561h1M314 561h2M331 561h1M340 561h1M485 561h1M487 561h1M520 561h2M523 561h1M533 561h1M542 561h1M721 561h1M723 561h2M729 561h1M770 561h3M790 561h1M813 561h1M860 561h1M885 561h1M889 561h2M940 561h1M106 562h9M150 562h2M165 562h1M167 562h1M172 562h1M202 562h2M223 562h7M234 562h1M332 562h1M340 562h1M485 562h1M487 562h1M522 562h1M534 562h9M722 562h1M730 562h2M769 562h1M773 562h2M789 562h1M814 562h1M859 562h1M885 562h1M888 562h1M891 562h1M939 562h1M115 563h1M150 563h1M152 563h2M165 563h1M168 563h1M171 563h1M230 563h5M332 563h1M339 563h1M486 563h1M732 563h2M769 563h1M775 563h1M789 563h1M815 563h2M859 563h1M886 563h2M891 563h1M939 563h1M116 564h1M122 564h2M149 564h1M154 564h3M164 564h1M168 564h1M171 564h1M333 564h1M339 564h1M486 564h1M734 564h2M768 564h1M775 564h1M788 564h1M817 564h1M859 564h1M886 564h1M891 564h1M938 564h1M117 565h1M120 565h2M124 565h2M149 565h1M157 565h3M163 565h1M169 565h2M334 565h3M338 565h1M735 565h1M767 565h1M776 565h1M788 565h1M818 565h1M858 565h1M892 565h1M936 565h2M118 566h2M126 566h1M149 566h1M160 566h2M163 566h1M170 566h1M337 566h2M736 566h1M767 566h1M777 566h1M787 566h1M819 566h1M854 566h5M892 566h1M934 566h2M127 567h1M148 567h1M162 567h1M736 567h1M766 567h1M777 567h1M787 567h1M820 567h1M854 567h1M893 567h1M934 567h1M128 568h1M148 568h1M737 568h1M766 568h1M778 568h3M786 568h1M820 568h1M825 568h8M853 568h1M893 568h1M933 568h1M129 569h1M148 569h1M737 569h1M765 569h1M781 569h6M821 569h1M823 569h2M833 569h2M853 569h1M893 569h1M933 569h1M130 570h2M148 570h1M738 570h2M765 570h1M822 570h1M835 570h2M846 570h1M853 570h1M894 570h1M933 570h1M132 571h4M147 571h1M740 571h3M764 571h1M837 571h1M845 571h1M847 571h1M852 571h1M894 571h1M932 571h1M136 572h3M147 572h1M743 572h2M764 572h1M838 572h1M845 572h1M847 572h1M852 572h1M895 572h2M932 572h1M139 573h3M147 573h1M745 573h2M763 573h1M839 573h1M844 573h1M848 573h1M851 573h1M897 573h1M932 573h1M142 574h3M146 574h1M747 574h1M763 574h1M840 574h1M843 574h1M848 574h1M851 574h1M898 574h3M932 574h1M145 575h2M748 575h2M762 575h1M841 575h1M843 575h1M849 575h1M851 575h1M901 575h7M931 575h1M750 576h3M756 576h7M842 576h1M849 576h2M908 576h2M931 576h1M753 577h3M850 577h1M910 577h1M918 577h1M931 577h1M911 578h2M917 578h1M919 578h2M930 578h1M913 579h1M915 579h2M921 579h10M914 580h1" transform="translate(0 .5)" fill="none" stroke="#1e90ff" stroke-width="1" clip-path="url(#cr)"/>
<text x="10.5" y="519" font-size="10" fill="#000" stroke="#000" stroke-width="0.2" textLength="68.5" lengthAdjust="spacingAndGlyphs" xml:space="preserve">RSI(14) 72.0822</text>
<rect x="1491" y="508" width="1" height="1" fill="#000"/>
<text x="1494" y="517" font-size="10" fill="#000" stroke="#000" stroke-width="0.2" xml:space="preserve">100</text>
<rect x="1491" y="533" width="1" height="1" fill="#000"/>
<text x="1494" y="537" font-size="10" fill="#000" stroke="#000" stroke-width="0.2" xml:space="preserve">70</text>
<rect x="1491" y="567" width="1" height="1" fill="#000"/>
<text x="1494" y="571" font-size="10" fill="#000" stroke="#000" stroke-width="0.2" xml:space="preserve">30</text>
<rect x="1491" y="592" width="1" height="1" fill="#000"/>
<text x="1494" y="590" font-size="10" fill="#000" stroke="#000" stroke-width="0.2" xml:space="preserve">0</text>
<clipPath id="cd"><rect x="6" y="596" width="1484" height="85"/></clipPath>
<g clip-path="url(#cd)">
<rect x="6" y="625" width="1" height="2" fill="#c0c0c0"/>
<rect x="10" y="624" width="1" height="3" fill="#c0c0c0"/>
<rect x="14" y="623" width="1" height="4" fill="#c0c0c0"/>
<rect x="18" y="623" width="1" height="4" fill="#c0c0c0"/>
<rect x="22" y="623" width="1" height="4" fill="#c0c0c0"/>
<rect x="26" y="622" width="1" height="5" fill="#c0c0c0"/>
<rect x="30" y="622" width="1" height="5" fill="#c0c0c0"/>
<rect x="34" y="622" width="1" height="5" fill="#c0c0c0"/>
<rect x="38" y="623" width="1" height="4" fill="#c0c0c0"/>
<rect x="42" y="623" width="1" height="4" fill="#c0c0c0"/>
<rect x="46" y="624" width="1" height="3" fill="#c0c0c0"/>
<rect x="50" y="625" width="1" height="2" fill="#c0c0c0"/>
<rect x="54" y="624" width="1" height="3" fill="#c0c0c0"/>
<rect x="58" y="624" width="1" height="3" fill="#c0c0c0"/>
<rect x="62" y="623" width="1" height="4" fill="#c0c0c0"/>
<rect x="66" y="623" width="1" height="4" fill="#c0c0c0"/>
<rect x="70" y="622" width="1" height="5" fill="#c0c0c0"/>
<rect x="74" y="622" width="1" height="5" fill="#c0c0c0"/>
<rect x="78" y="622" width="1" height="5" fill="#c0c0c0"/>
<rect x="82" y="621" width="1" height="6" fill="#c0c0c0"/>
<rect x="86" y="621" width="1" height="6" fill="#c0c0c0"/>
<rect x="90" y="621" width="1" height="6" fill="#c0c0c0"/>
<rect x="94" y="622" width="1" height="5" fill="#c0c0c0"/>
<rect x="98" y="623" width="1" height="4" fill="#c0c0c0"/>
<rect x="102" y="624" width="1" height="3" fill="#c0c0c0"/>
<rect x="106" y="626" width="1" height="1" fill="#c0c0c0"/>
<rect x="110" y="626" width="1" height="3" fill="#c0c0c0"/>
<rect x="114" y="626" width="1" height="4" fill="#c0c0c0"/>
<rect x="118" y="626" width="1" height="5" fill="#c0c0c0"/>
<rect x="122" y="626" width="1" height="6" fill="#c0c0c0"/>
<rect x="126" y="626" width="1" height="7" fill="#c0c0c0"/>
<rect x="130" y="626" width="1" height="9" fill="#c0c0c0"/>
<rect x="134" y="626" width="1" height="10" fill="#c0c0c0"/>
<rect x="138" y="626" width="1" height="12" fill="#c0c0c0"/>
<rect x="142" y="626" width="1" height="13" fill="#c0c0c0"/>
<rect x="146" y="626" width="1" height="14" fill="#c0c0c0"/>
<rect x="150" y="626" width="1" height="13" fill="#c0c0c0"/>
<rect x="154" y="626" width="1" height="13" fill="#c0c0c0"/>
<rect x="158" y="626" width="1" height="13" fill="#c0c0c0"/>
<rect x="162" y="626" width="1" height="13" fill="#c0c0c0"/>
<rect x="166" y="626" width="1" height="13" fill="#c0c0c0"/>
<rect x="170" y="626" width="1" height="13" fill="#c0c0c0"/>
<rect x="174" y="626" width="1" height="12" fill="#c0c0c0"/>
<rect x="178" y="626" width="1" height="12" fill="#c0c0c0"/>
<rect x="182" y="626" width="1" height="11" fill="#c0c0c0"/>
<rect x="186" y="626" width="1" height="11" fill="#c0c0c0"/>
<rect x="190" y="626" width="1" height="10" fill="#c0c0c0"/>
<rect x="194" y="626" width="1" height="10" fill="#c0c0c0"/>
<rect x="198" y="626" width="1" height="9" fill="#c0c0c0"/>
<rect x="202" y="626" width="1" height="9" fill="#c0c0c0"/>
<rect x="206" y="626" width="1" height="9" fill="#c0c0c0"/>
<rect x="210" y="626" width="1" height="9" fill="#c0c0c0"/>
<rect x="214" y="626" width="1" height="8" fill="#c0c0c0"/>
<rect x="218" y="626" width="1" height="8" fill="#c0c0c0"/>
<rect x="222" y="626" width="1" height="8" fill="#c0c0c0"/>
<rect x="226" y="626" width="1" height="9" fill="#c0c0c0"/>
<rect x="230" y="626" width="1" height="9" fill="#c0c0c0"/>
<rect x="234" y="626" width="1" height="9" fill="#c0c0c0"/>
<rect x="238" y="626" width="1" height="8" fill="#c0c0c0"/>
<rect x="242" y="626" width="1" height="7" fill="#c0c0c0"/>
<rect x="246" y="626" width="1" height="5" fill="#c0c0c0"/>
<rect x="250" y="626" width="1" height="3" fill="#c0c0c0"/>
<rect x="254" y="626" width="1" height="2" fill="#c0c0c0"/>
<rect x="258" y="625" width="1" height="2" fill="#c0c0c0"/>
<rect x="262" y="624" width="1" height="3" fill="#c0c0c0"/>
<rect x="266" y="623" width="1" height="4" fill="#c0c0c0"/>
<rect x="270" y="623" width="1" height="4" fill="#c0c0c0"/>
<rect x="274" y="622" width="1" height="5" fill="#c0c0c0"/>
<rect x="278" y="621" width="1" height="6" fill="#c0c0c0"/>
<rect x="282" y="621" width="1" height="6" fill="#c0c0c0"/>
<rect x="286" y="622" width="1" height="5" fill="#c0c0c0"/>
<rect x="290" y="622" width="1" height="5" fill="#c0c0c0"/>
<rect x="294" y="623" width="1" height="4" fill="#c0c0c0"/>
<rect x="298" y="625" width="1" height="2" fill="#c0c0c0"/>
<rect x="302" y="626" width="1" height="1" fill="#c0c0c0"/>
<rect x="306" y="626" width="1" height="2" fill="#c0c0c0"/>
<rect x="310" y="626" width="1" height="2" fill="#c0c0c0"/>
<rect x="314" y="626" width="1" height="3" fill="#c0c0c0"/>
<rect x="318" y="626" width="1" height="4" fill="#c0c0c0"/>
<rect x="322" y="626" width="1" height="4" fill="#c0c0c0"/>
<rect x="326" y="626" width="1" height="4" fill="#c0c0c0"/>
<rect x="330" y="626" width="1" height="5" fill="#c0c0c0"/>
<rect x="334" y="626" width="1" height="6" fill="#c0c0c0"/>
<rect x="338" y="626" width="1" height="7" fill="#c0c0c0"/>
<rect x="342" y="626" width="1" height="6" fill="#c0c0c0"/>
<rect x="346" y="626" width="1" height="6" fill="#c0c0c0"/>
<rect x="350" y="626" width="1" height="5" fill="#c0c0c0"/>
<rect x="354" y="626" width="1" height="5" fill="#c0c0c0"/>
<rect x="358" y="626" width="1" height="5" fill="#c0c0c0"/>
<rect x="362" y="626" width="1" height="5" fill="#c0c0c0"/>
<rect x="366" y="626" width="1" height="5" fill="#c0c0c0"/>
<rect x="370" y="626" width="1" height="3" fill="#c0c0c0"/>
<rect x="374" y="626" width="1" height="3" fill="#c0c0c0"/>
<rect x="378" y="626" width="1" height="2" fill="#c0c0c0"/>
<rect x="382" y="626" width="1" height="3" fill="#c0c0c0"/>
<rect x="386" y="626" width="1" height="3" fill="#c0c0c0"/>
<rect x="390" y="626" width="1" height="1" fill="#c0c0c0"/>
<rect x="394" y="625" width="1" height="2" fill="#c0c0c0"/>
<rect x="398" y="624" width="1" height="3" fill="#c0c0c0"/>
<rect x="402" y="623" width="1" height="4" fill="#c0c0c0"/>
<rect x="406" y="622" width="1" height="5" fill="#c0c0c0"/>
<rect x="410" y="622" width="1" height="5" fill="#c0c0c0"/>
<rect x="414" y="622" width="1" height="5" fill="#c0c0c0"/>
<rect x="418" y="622" width="1" height="5" fill="#c0c0c0"/>
<rect x="422" y="622" width="1" height="5" fill="#c0c0c0"/>
<rect x="426" y="622" width="1" height="5" fill="#c0c0c0"/>
<rect x="430" y="622" width="1" height="5" fill="#c0c0c0"/>
<rect x="434" y="622" width="1" height="5" fill="#c0c0c0"/>
<rect x="438" y="621" width="1" height="6" fill="#c0c0c0"/>
<rect x="442" y="620" width="1" height="7" fill="#c0c0c0"/>
<rect x="446" y="619" width="1" height="8" fill="#c0c0c0"/>
<rect x="450" y="619" width="1" height="8" fill="#c0c0c0"/>
<rect x="454" y="619" width="1" height="8" fill="#c0c0c0"/>
<rect x="458" y="620" width="1" height="7" fill="#c0c0c0"/>
<rect x="462" y="620" width="1" height="7" fill="#c0c0c0"/>
<rect x="466" y="621" width="1" height="6" fill="#c0c0c0"/>
<rect x="470" y="621" width="1" height="6" fill="#c0c0c0"/>
<rect x="474" y="622" width="1" height="5" fill="#c0c0c0"/>
<rect x="478" y="623" width="1" height="4" fill="#c0c0c0"/>
<rect x="482" y="624" width="1" height="3" fill="#c0c0c0"/>
<rect x="486" y="625" width="1" height="2" fill="#c0c0c0"/>
<rect x="490" y="626" width="1" height="1" fill="#c0c0c0"/>
<rect x="494" y="626" width="1" height="1" fill="#c0c0c0"/>
<rect x="498" y="626" width="1" height="2" fill="#c0c0c0"/>
<rect x="502" y="626" width="1" height="2" fill="#c0c0c0"/>
<rect x="506" y="626" width="1" height="2" fill="#c0c0c0"/>
<rect x="510" y="626" width="1" height="3" fill="#c0c0c0"/>
<rect x="514" y="626" width="1" height="3" fill="#c0c0c0"/>
<rect x="518" y="626" width="1" height="4" fill="#c0c0c0"/>
<rect x="522" y="626" width="1" height="4" fill="#c0c0c0"/>
<rect x="526" y="626" width="1" height="5" fill="#c0c0c0"/>
<rect x="530" y="626" width="1" height="5" fill="#c0c0c0"/>
<rect x="534" y="626" width="1" height="5" fill="#c0c0c0"/>
<rect x="538" y="626" width="1" height="5" fill="#c0c0c0"/>
<rect x="542" y="626" width="1" height="5" fill="#c0c0c0"/>
<rect x="546" y="626" width="1" height="5" fill="#c0c0c0"/>
<rect x="550" y="626" width="1" height="3" fill="#c0c0c0"/>
<rect x="554" y="626" width="1" height="2" fill="#c0c0c0"/>
<rect x="558" y="626" width="1" height="2" fill="#c0c0c0"/>
<rect x="562" y="626" width="1" height="1" fill="#c0c0c0"/>
<rect x="566" y="626" width="1" height="1" fill="#c0c0c0"/>
<rect x="570" y="626" width="1" height="1" fill="#c0c0c0"/>
<rect x="574" y="626" width="1" height="1" fill="#c0c0c0"/>
<rect x="578" y="625" width="1" height="2" fill="#c0c0c0"/>
<rect x="582" y="624" width="1" height="3" fill="#c0c0c0"/>
<rect x="586" y="623" width="1" height="4" fill="#c0c0c0"/>
<rect x="590" y="623" width="1" height="4" fill="#c0c0c0"/>
<rect x="594" y="622" width="1" height="5" fill="#c0c0c0"/>
<rect x="598" y="622" width="1" height="5" fill="#c0c0c0"/>
<rect x="602" y="623" width="1" height="4" fill="#c0c0c0"/>
<rect x="606" y="622" width="1" height="5" fill="#c0c0c0"/>
<rect x="610" y="622" width="1" height="5" fill="#c0c0c0"/>
<rect x="614" y="621" width="1" height="6" fill="#c0c0c0"/>
<rect x="618" y="621" width="1" height="6" fill="#c0c0c0"/>
<rect x="622" y="620" width="1" height="7" fill="#c0c0c0"/>
<rect x="626" y="620" width="1" height="7" fill="#c0c0c0"/>
<rect x="630" y="620" width="1" height="7" fill="#c0c0c0"/>
<rect x="634" y="619" width="1" height="8" fill="#c0c0c0"/>
<rect x="638" y="618" width="1" height="9" fill="#c0c0c0"/>
<rect x="642" y="617" width="1" height="10" fill="#c0c0c0"/>
<rect x="646" y="616" width="1" height="11" fill="#c0c0c0"/>
<rect x="650" y="616" width="1" height="11" fill="#c0c0c0"/>
<rect x="654" y="616" width="1" height="11" fill="#c0c0c0"/>
<rect x="658" y="617" width="1" height="10" fill="#c0c0c0"/>
<rect x="662" y="617" width="1" height="10" fill="#c0c0c0"/>
<rect x="666" y="619" width="1" height="8" fill="#c0c0c0"/>
<rect x="670" y="621" width="1" height="6" fill="#c0c0c0"/>
<rect x="674" y="623" width="1" height="4" fill="#c0c0c0"/>
<rect x="678" y="625" width="1" height="2" fill="#c0c0c0"/>
<rect x="682" y="625" width="1" height="2" fill="#c0c0c0"/>
<rect x="686" y="625" width="1" height="2" fill="#c0c0c0"/>
<rect x="690" y="625" width="1" height="2" fill="#c0c0c0"/>
<rect x="694" y="625" width="1" height="2" fill="#c0c0c0"/>
<rect x="698" y="626" width="1" height="1" fill="#c0c0c0"/>
<rect x="702" y="626" width="1" height="1" fill="#c0c0c0"/>
<rect x="706" y="626" width="1" height="2" fill="#c0c0c0"/>
<rect x="710" y="626" width="1" height="2" fill="#c0c0c0"/>
<rect x="714" y="626" width="1" height="3" fill="#c0c0c0"/>
<rect x="718" y="626" width="1" height="3" fill="#c0c0c0"/>
<rect x="722" y="626" width="1" height="4" fill="#c0c0c0"/>
<rect x="726" y="626" width="1" height="4" fill="#c0c0c0"/>
<rect x="730" y="626" width="1" height="5" fill="#c0c0c0"/>
<rect x="734" y="626" width="1" height="5" fill="#c0c0c0"/>
<rect x="738" y="626" width="1" height="7" fill="#c0c0c0"/>
<rect x="742" y="626" width="1" height="8" fill="#c0c0c0"/>
<rect x="746" y="626" width="1" height="9" fill="#c0c0c0"/>
<rect x="750" y="626" width="1" height="11" fill="#c0c0c0"/>
<rect x="754" y="626" width="1" height="12" fill="#c0c0c0"/>
<rect x="758" y="626" width="1" height="13" fill="#c0c0c0"/>
<rect x="762" y="626" width="1" height="13" fill="#c0c0c0"/>
<rect x="766" y="626" width="1" height="13" fill="#c0c0c0"/>
<rect x="770" y="626" width="1" height="12" fill="#c0c0c0"/>
<rect x="774" y="626" width="1" height="11" fill="#c0c0c0"/>
<rect x="778" y="626" width="1" height="12" fill="#c0c0c0"/>
<rect x="782" y="626" width="1" height="12" fill="#c0c0c0"/>
<rect x="786" y="626" width="1" height="12" fill="#c0c0c0"/>
<rect x="790" y="626" width="1" height="11" fill="#c0c0c0"/>
<rect x="794" y="626" width="1" height="10" fill="#c0c0c0"/>
<rect x="798" y="626" width="1" height="9" fill="#c0c0c0"/>
<rect x="802" y="626" width="1" height="9" fill="#c0c0c0"/>
<rect x="806" y="626" width="1" height="9" fill="#c0c0c0"/>
<rect x="810" y="626" width="1" height="8" fill="#c0c0c0"/>
<rect x="814" y="626" width="1" height="8" fill="#c0c0c0"/>
<rect x="818" y="626" width="1" height="8" fill="#c0c0c0"/>
<rect x="822" y="626" width="1" height="9" fill="#c0c0c0"/>
<rect x="826" y="626" width="1" height="10" fill="#c0c0c0"/>
<rect x="830" y="626" width="1" height="10" fill="#c0c0c0"/>
<rect x="834" y="626" width="1" height="11" fill="#c0c0c0"/>
<rect x="838" y="626" width="1" height="11" fill="#c0c0c0"/>
<rect x="842" y="626" width="1" height="12" fill="#c0c0c0"/>
<rect x="846" y="626" width="1" height="13" fill="#c0c0c0"/>
<rect x="850" y="626" width="1" height="15" fill="#c0c0c0"/>
<rect x="854" y="626" width="1" height="15" fill="#c0c0c0"/>
<rect x="858" y="626" width="1" height="16" fill="#c0c0c0"/>
<rect x="862" y="626" width="1" height="14" fill="#c0c0c0"/>
<rect x="866" y="626" width="1" height="12" fill="#c0c0c0"/>
<rect x="870" y="626" width="1" height="11" fill="#c0c0c0"/>
<rect x="874" y="626" width="1" height="10" fill="#c0c0c0"/>
<rect x="878" y="626" width="1" height="9" fill="#c0c0c0"/>
<rect x="882" y="626" width="1" height="7" fill="#c0c0c0"/>
<rect x="886" y="626" width="1" height="9" fill="#c0c0c0"/>
<rect x="890" y="626" width="1" height="10" fill="#c0c0c0"/>
<rect x="894" y="626" width="1" height="15" fill="#c0c0c0"/>
<rect x="898" y="626" width="1" height="20" fill="#c0c0c0"/>
<rect x="902" y="626" width="1" height="25" fill="#c0c0c0"/>
<rect x="906" y="626" width="1" height="28" fill="#c0c0c0"/>
<rect x="910" y="626" width="1" height="34" fill="#c0c0c0"/>
<rect x="914" y="626" width="1" height="40" fill="#c0c0c0"/>
<rect x="918" y="626" width="1" height="44" fill="#c0c0c0"/>
<rect x="922" y="626" width="1" height="47" fill="#c0c0c0"/>
<rect x="926" y="626" width="1" height="50" fill="#c0c0c0"/>
<rect x="930" y="626" width="1" height="52" fill="#c0c0c0"/>
<rect x="934" y="626" width="1" height="50" fill="#c0c0c0"/>
<rect x="938" y="626" width="1" height="47" fill="#c0c0c0"/>
<rect x="942" y="626" width="1" height="43" fill="#c0c0c0"/>
<rect x="946" y="626" width="1" height="38" fill="#c0c0c0"/>
<rect x="950" y="626" width="1" height="32" fill="#c0c0c0"/>
<rect x="954" y="626" width="1" height="28" fill="#c0c0c0"/>
<rect x="958" y="626" width="1" height="25" fill="#c0c0c0"/>
<rect x="962" y="626" width="1" height="23" fill="#c0c0c0"/>
<rect x="966" y="626" width="1" height="22" fill="#c0c0c0"/>
<rect x="970" y="626" width="1" height="22" fill="#c0c0c0"/>
<rect x="974" y="626" width="1" height="21" fill="#c0c0c0"/>
<rect x="978" y="626" width="1" height="19" fill="#c0c0c0"/>
<rect x="982" y="626" width="1" height="15" fill="#c0c0c0"/>
<rect x="986" y="626" width="1" height="12" fill="#c0c0c0"/>
<rect x="990" y="626" width="1" height="7" fill="#c0c0c0"/>
<rect x="994" y="626" width="1" height="3" fill="#c0c0c0"/>
<rect x="998" y="625" width="1" height="2" fill="#c0c0c0"/>
<rect x="1002" y="621" width="1" height="6" fill="#c0c0c0"/>
<rect x="1006" y="618" width="1" height="9" fill="#c0c0c0"/>
<rect x="1010" y="618" width="1" height="9" fill="#c0c0c0"/>
<rect x="1014" y="617" width="1" height="10" fill="#c0c0c0"/>
<rect x="1018" y="617" width="1" height="10" fill="#c0c0c0"/>
<rect x="1022" y="616" width="1" height="11" fill="#c0c0c0"/>
<rect x="1026" y="615" width="1" height="12" fill="#c0c0c0"/>
<rect x="1030" y="616" width="1" height="11" fill="#c0c0c0"/>
<rect x="1034" y="617" width="1" height="10" fill="#c0c0c0"/>
<rect x="1038" y="616" width="1" height="11" fill="#c0c0c0"/>
<rect x="1042" y="616" width="1" height="11" fill="#c0c0c0"/>
<rect x="1046" y="616" width="1" height="11" fill="#c0c0c0"/>
<rect x="1050" y="614" width="1" height="13" fill="#c0c0c0"/>
<rect x="1054" y="612" width="1" height="15" fill="#c0c0c0"/>
<rect x="1058" y="611" width="1" height="16" fill="#c0c0c0"/>
<rect x="1062" y="609" width="1" height="18" fill="#c0c0c0"/>
<rect x="1066" y="611" width="1" height="16" fill="#c0c0c0"/>
<rect x="1070" y="612" width="1" height="15" fill="#c0c0c0"/>
<rect x="1074" y="613" width="1" height="14" fill="#c0c0c0"/>
<rect x="1078" y="613" width="1" height="14" fill="#c0c0c0"/>
<rect x="1082" y="615" width="1" height="12" fill="#c0c0c0"/>
<rect x="1086" y="614" width="1" height="13" fill="#c0c0c0"/>
<rect x="1090" y="613" width="1" height="14" fill="#c0c0c0"/>
<rect x="1094" y="613" width="1" height="14" fill="#c0c0c0"/>
<rect x="1098" y="613" width="1" height="14" fill="#c0c0c0"/>
<rect x="1102" y="614" width="1" height="13" fill="#c0c0c0"/>
<rect x="1106" y="615" width="1" height="12" fill="#c0c0c0"/>
<rect x="1110" y="616" width="1" height="11" fill="#c0c0c0"/>
<rect x="1114" y="618" width="1" height="9" fill="#c0c0c0"/>
<rect x="1118" y="619" width="1" height="8" fill="#c0c0c0"/>
<rect x="1122" y="619" width="1" height="8" fill="#c0c0c0"/>
<rect x="1126" y="617" width="1" height="10" fill="#c0c0c0"/>
<rect x="1130" y="616" width="1" height="11" fill="#c0c0c0"/>
<rect x="1134" y="615" width="1" height="12" fill="#c0c0c0"/>
<rect x="1138" y="616" width="1" height="11" fill="#c0c0c0"/>
<rect x="1142" y="616" width="1" height="11" fill="#c0c0c0"/>
<rect x="1146" y="616" width="1" height="11" fill="#c0c0c0"/>
<rect x="1150" y="614" width="1" height="13" fill="#c0c0c0"/>
<rect x="1154" y="614" width="1" height="13" fill="#c0c0c0"/>
<rect x="1158" y="613" width="1" height="14" fill="#c0c0c0"/>
<rect x="1162" y="613" width="1" height="14" fill="#c0c0c0"/>
<rect x="1166" y="612" width="1" height="15" fill="#c0c0c0"/>
<rect x="1170" y="610" width="1" height="17" fill="#c0c0c0"/>
<rect x="1174" y="606" width="1" height="21" fill="#c0c0c0"/>
<rect x="1178" y="603" width="1" height="24" fill="#c0c0c0"/>
<rect x="1182" y="601" width="1" height="26" fill="#c0c0c0"/>
</g>
<path d="M1182 610h1M1178 611h1M1080 612h3M1086 612h3M1092 612h1M1176 612h2M1069 613h2M1074 613h3M1093 613h2M1098 613h3M1104 613h1M1062 614h3M1068 614h1M1105 614h2M1110 614h3M1116 614h1M1165 614h2M1170 614h3M1056 615h3M1117 615h2M1158 615h3M1164 615h1M1044 616h3M1050 616h3M1122 616h3M1128 616h3M1152 616h3M661 617h2M666 617h3M672 617h1M1033 617h2M1038 617h3M1134 617h3M1140 617h3M1146 617h3M654 618h3M660 618h1M673 618h2M1032 618h1M648 619h3M678 619h3M1026 619h3M457 620h2M462 620h3M468 620h3M474 620h3M637 620h2M642 620h3M684 620h1M445 621h2M450 621h3M456 621h1M480 621h3M630 621h3M636 621h1M685 621h2M1022 621h1M90 622h3M96 622h3M102 622h3M294 622h3M300 622h1M432 622h3M438 622h3M444 622h1M486 622h3M492 622h1M618 622h3M624 622h3M690 622h3M1021 622h1M36 623h3M42 623h3M48 623h3M54 623h3M60 623h3M66 623h3M72 623h3M78 623h3M84 623h3M108 623h3M288 623h3M301 623h2M306 623h3M421 623h2M426 623h3M493 623h2M606 623h3M612 623h3M696 623h1M1020 623h1M30 624h3M114 624h3M282 624h3M312 624h1M414 624h3M420 624h1M498 624h3M600 624h3M697 624h2M702 624h3M25 625h2M120 625h1M277 625h2M313 625h2M318 625h3M409 625h2M504 625h3M588 625h3M594 625h3M708 625h1M1016 625h1M24 626h1M121 626h2M276 626h1M324 626h1M402 626h3M408 626h1M510 626h3M516 626h1M582 626h3M709 626h2M714 626h3M720 626h1M1014 626h2M18 627h3M126 627h2M270 627h3M325 627h2M397 627h2M517 627h2M522 627h3M576 627h3M721 627h2M726 627h3M13 628h2M128 628h1M265 628h2M330 628h3M336 628h1M390 628h3M396 628h1M528 628h3M565 628h2M570 628h3M732 628h3M12 629h1M132 629h1M264 629h1M337 629h2M378 629h3M384 629h3M534 629h3M540 629h3M553 629h2M558 629h3M564 629h1M738 629h3M1010 629h1M6 630h3M133 630h2M260 630h1M342 630h3M348 630h3M354 630h3M372 630h3M546 630h3M552 630h1M744 630h3M1009 630h1M138 631h2M253 631h2M258 631h2M360 631h3M366 631h3M750 631h3M1008 631h1M140 632h1M252 632h1M756 632h1M144 633h1M241 633h2M246 633h3M757 633h2M145 634h2M217 634h2M222 634h3M228 634h3M234 634h3M240 634h1M762 634h3M822 634h3M828 634h3M834 634h3M840 634h1M150 635h3M210 635h3M216 635h1M768 635h1M810 635h3M816 635h3M841 635h2M846 635h3M1003 635h2M156 636h1M198 636h3M204 636h3M769 636h2M774 636h3M798 636h3M804 636h3M852 636h1M889 636h2M894 636h3M1002 636h1M157 637h2M162 637h3M186 637h3M192 637h3M780 637h3M786 637h3M792 637h3M853 637h2M882 637h3M888 637h1M900 637h1M168 638h3M174 638h3M180 638h3M858 638h3M864 638h3M870 638h3M876 638h3M901 638h2M998 638h1M997 639h1M906 640h2M996 640h1M908 641h1M992 642h1M990 643h2M912 644h1M913 645h1M914 646h1M986 646h1M984 647h2M918 650h1M979 650h2M919 651h1M978 651h1M920 652h1M974 653h1M973 654h1M972 655h1M924 656h1M924 657h1M925 658h1M967 658h2M926 659h1M966 659h1M930 663h1M962 663h1M931 664h2M960 664h2M936 667h1M955 667h2M937 668h1M954 668h1M938 669h1M942 670h3M949 670h2M948 671h1" transform="translate(0 .5)" fill="none" stroke="#ff0000" stroke-width="1" clip-path="url(#cd)"/>
<text x="10.5" y="608" font-size="10" fill="#000" stroke="#000" stroke-width="0.2" textLength="148.5" lengthAdjust="spacingAndGlyphs" xml:space="preserve">MACD(12,26,9) 0.011321 0.007323</text>
<rect x="1491" y="597" width="1" height="1" fill="#000"/>
<text x="1494" y="606" font-size="10" fill="#000" stroke="#000" stroke-width="0.2" textLength="38.5" lengthAdjust="spacingAndGlyphs" xml:space="preserve">0.013016</text>
<rect x="1491" y="626" width="1" height="1" fill="#000"/>
<text x="1494" y="630" font-size="10" fill="#000" stroke="#000" stroke-width="0.2" textLength="18" lengthAdjust="spacingAndGlyphs" xml:space="preserve">0.00</text>
<rect x="1491" y="680" width="1" height="1" fill="#000"/>
<text x="1494" y="678" font-size="10" fill="#000" stroke="#000" stroke-width="0.2" textLength="41.5" lengthAdjust="spacingAndGlyphs" xml:space="preserve">-0.024282</text>
<rect x="6" y="682" width="1" height="3" fill="#000"/>
<text x="5" y="694" font-size="10" fill="#000" stroke="#000" stroke-width="0.2" textLength="50.8" lengthAdjust="spacingAndGlyphs" xml:space="preserve">27 Jun 2019</text>
<rect x="70" y="682" width="1" height="3" fill="#000"/>
<text x="69" y="694" font-size="10" fill="#000" stroke="#000" stroke-width="0.2" textLength="47.5" lengthAdjust="spacingAndGlyphs" xml:space="preserve">16 Jul 2019</text>
<rect x="134" y="682" width="1" height="3" fill="#000"/>
<text x="133" y="694" font-size="10" fill="#000" stroke="#000" stroke-width="0.2" textLength="48.8" lengthAdjust="spacingAndGlyphs" xml:space="preserve">3 Aug 2019</text>
<rect x="198" y="682" width="1" height="3" fill="#000"/>
<text x="197" y="694" font-size="10" fill="#000" stroke="#000" stroke-width="0.2" textLength="53.199999999999996" lengthAdjust="spacingAndGlyphs" xml:space="preserve">22 Aug 2019</text>
<rect x="262" y="682" width="1" height="3" fill="#000"/>
<text x="261" y="694" font-size="10" fill="#000" stroke="#000" stroke-width="0.2" textLength="51.5" lengthAdjust="spacingAndGlyphs" xml:space="preserve">10 Sep 2019</text>
<rect x="326" y="682" width="1" height="3" fill="#000"/>
<text x="325" y="694" font-size="10" fill="#000" stroke="#000" stroke-width="0.2" textLength="52.199999999999996" lengthAdjust="spacingAndGlyphs" xml:space="preserve">28 Sep 2019</text>
<rect x="390" y="682" width="1" height="3" fill="#000"/>
<text x="389" y="694" font-size="10" fill="#000" stroke="#000" stroke-width="0.2" textLength="50.8" lengthAdjust="spacingAndGlyphs" xml:space="preserve">17 Oct 2019</text>
<rect x="454" y="682" width="1" height="3" fill="#000"/>
<text x="453" y="694" font-size="10" fill="#000" stroke="#000" stroke-width="0.2" textLength="48.5" lengthAdjust="spacingAndGlyphs" xml:space="preserve">5 Nov 2019</text>
<rect x="518" y="682" width="1" height="3" fill="#000"/>
<text x="517" y="694" font-size="10" fill="#000" stroke="#000" stroke-width="0.2" textLength="53.5" lengthAdjust="spacingAndGlyphs" xml:space="preserve">23 Nov 2019</text>
<rect x="582" y="682" width="1" height="3" fill="#000"/>
<text x="581" y="694" font-size="10" fill="#000" stroke="#000" stroke-width="0.2" textLength="51.8" lengthAdjust="spacingAndGlyphs" xml:space="preserve">12 Dec 2019</text>
<rect x="646" y="682" width="1" height="3" fill="#000"/>
<text x="645" y="694" font-size="10" fill="#000" stroke="#000" stroke-width="0.2" textLength="52.199999999999996" lengthAdjust="spacingAndGlyphs" xml:space="preserve">31 Dec 2019</text>
<rect x="710" y="682" width="1" height="3" fill="#000"/>
<text x="709" y="694" font-size="10" fill="#000" stroke="#000" stroke-width="0.2" textLength="49.8" lengthAdjust="spacingAndGlyphs" xml:space="preserve">18 Jan 2020</text>
<rect x="774" y="682" width="1" height="3" fill="#000"/>
<text x="773" y="694" font-size="10" fill="#000" stroke="#000" stroke-width="0.2" textLength="47.099999999999994" lengthAdjust="spacingAndGlyphs" xml:space="preserve">6 Feb 2020</text>
<rect x="838" y="682" width="1" height="3" fill="#000"/>
<text x="837" y="694" font-size="10" fill="#000" stroke="#000" stroke-width="0.2" textLength="52.199999999999996" lengthAdjust="spacingAndGlyphs" xml:space="preserve">25 Feb 2020</text>
<rect x="902" y="682" width="1" height="3" fill="#000"/>
<text x="901" y="694" font-size="10" fill="#000" stroke="#000" stroke-width="0.2" textLength="51.8" lengthAdjust="spacingAndGlyphs" xml:space="preserve">14 Mar 2020</text>
<rect x="966" y="682" width="1" height="3" fill="#000"/>
<text x="965" y="694" font-size="10" fill="#000" stroke="#000" stroke-width="0.2" textLength="45.8" lengthAdjust="spacingAndGlyphs" xml:space="preserve">2 Apr 2020</text>
<rect x="1030" y="682" width="1" height="3" fill="#000"/>
<text x="1029" y="694" font-size="10" fill="#000" stroke="#000" stroke-width="0.2" textLength="51.199999999999996" lengthAdjust="spacingAndGlyphs" xml:space="preserve">21 Apr 2020</text>
<rect x="1094" y="682" width="1" height="3" fill="#000"/>
<text x="1093" y="694" font-size="10" fill="#000" stroke="#000" stroke-width="0.2" textLength="50.8" lengthAdjust="spacingAndGlyphs" xml:space="preserve">9 May 2020</text>
<rect x="1158" y="682" width="1" height="3" fill="#000"/>
<text x="1157" y="694" font-size="10" fill="#000" stroke="#000" stroke-width="0.2" textLength="55.199999999999996" lengthAdjust="spacingAndGlyphs" xml:space="preserve">28 May 2020</text>
<rect x="0" y="702" width="1538" height="1" fill="#e3e3e3"/>
<rect x="0" y="705" width="1538" height="19" fill="#f0f0f0"/>
<rect x="1" y="704" width="1537" height="1" fill="#000"/>
<rect x="211" y="703" width="104" height="20" fill="#fff"/>
<rect x="211" y="704" width="1" height="19" fill="#000"/>
<rect x="314" y="704" width="1" height="19" fill="#000"/>
<rect x="211" y="722" width="104" height="1" fill="#000"/>
<rect x="315" y="706" width="1" height="18" fill="#a0a0a0"/>
<rect x="213" y="723" width="103" height="1" fill="#a0a0a0"/>
<rect x="1" y="705" width="1" height="16" fill="#696969"/>
<rect x="2" y="705" width="1" height="17" fill="#a0a0a0"/>
<text x="19.3" y="719" font-size="12.4" fill="#7a7a7a" textLength="80.2" lengthAdjust="spacingAndGlyphs" xml:space="preserve">EURUSD,Daily</text>
<text x="121.7" y="719" font-size="12.4" fill="#7a7a7a" textLength="78.8" lengthAdjust="spacingAndGlyphs" xml:space="preserve">USDCHF,Daily</text>
<text x="222" y="719" font-size="12.4" fill="#000" stroke="#000" stroke-width="0.15" textLength="82.8" lengthAdjust="spacingAndGlyphs" xml:space="preserve">AUDUSD,Daily</text>
<text x="326.2" y="719" font-size="12.4" fill="#7a7a7a" textLength="81.7" lengthAdjust="spacingAndGlyphs" xml:space="preserve">USDCAD,Daily</text>
<text x="429.3" y="719" font-size="12.4" fill="#7a7a7a" textLength="82.7" lengthAdjust="spacingAndGlyphs" xml:space="preserve">USDCNH,Daily</text>
<text x="534.8" y="719" font-size="12.4" fill="#7a7a7a" textLength="80.7" lengthAdjust="spacingAndGlyphs" xml:space="preserve">EURUSD,Daily</text>
<text x="638.6" y="719" font-size="12.4" fill="#7a7a7a" textLength="80.9" lengthAdjust="spacingAndGlyphs" xml:space="preserve">GBPUSD,Daily</text>
<text x="741.7" y="719" font-size="12.4" fill="#7a7a7a" textLength="69.8" lengthAdjust="spacingAndGlyphs" xml:space="preserve">XAUUSD,H4</text>
<text x="834" y="719" font-size="12.4" fill="#7a7a7a" textLength="50.2" lengthAdjust="spacingAndGlyphs" xml:space="preserve">HK50,H1</text>
<text x="905.7" y="719" font-size="12.4" fill="#7a7a7a" textLength="57.3" lengthAdjust="spacingAndGlyphs" xml:space="preserve">UK100,H1</text>
<text x="985.8" y="719" font-size="12.4" fill="#7a7a7a" textLength="57.0" lengthAdjust="spacingAndGlyphs" xml:space="preserve">UK100,H1</text>
<text x="1066.3" y="719" font-size="12.4" fill="#7a7a7a" textLength="57.0" lengthAdjust="spacingAndGlyphs" xml:space="preserve">GER30,H1</text>
<text x="1145.4" y="719" font-size="12.4" fill="#7a7a7a" textLength="54.6" lengthAdjust="spacingAndGlyphs" xml:space="preserve">FRA40,H1</text>
<text x="1220.8" y="719" font-size="12.4" fill="#7a7a7a" textLength="63.7" lengthAdjust="spacingAndGlyphs" xml:space="preserve">USOil,Daily</text>
<text x="1305.4" y="719" font-size="12.4" fill="#7a7a7a" textLength="63.0" lengthAdjust="spacingAndGlyphs" xml:space="preserve">USDJPY,H1</text>
<text x="1389.2" y="719" font-size="12.4" fill="#7a7a7a" textLength="46.8" lengthAdjust="spacingAndGlyphs" xml:space="preserve">DJ30,H1</text>
<rect x="110" y="707" width="1" height="14" fill="#5a5a5a"/>
<rect x="419" y="707" width="1" height="14" fill="#5a5a5a"/>
<rect x="523" y="707" width="1" height="14" fill="#5a5a5a"/>
<rect x="627" y="707" width="1" height="14" fill="#5a5a5a"/>
<rect x="731" y="707" width="1" height="14" fill="#5a5a5a"/>
<rect x="823" y="707" width="1" height="14" fill="#5a5a5a"/>
<rect x="895" y="707" width="1" height="14" fill="#5a5a5a"/>
<rect x="975" y="707" width="1" height="14" fill="#5a5a5a"/>
<rect x="1055" y="707" width="1" height="14" fill="#5a5a5a"/>
<rect x="1135" y="707" width="1" height="14" fill="#5a5a5a"/>
<rect x="1211" y="707" width="1" height="14" fill="#5a5a5a"/>
<rect x="1295" y="707" width="1" height="14" fill="#5a5a5a"/>
<rect x="1379" y="707" width="1" height="14" fill="#5a5a5a"/>
<rect x="1447" y="707" width="1" height="14" fill="#5a5a5a"/>
<path d="M1509.5 710v7l-4-3.5z" fill="#a0a0a0" shape-rendering="auto"/>
<path d="M1525 710v7l4-3.5z" fill="#a0a0a0" shape-rendering="auto"/>
</svg>
</body></html>
